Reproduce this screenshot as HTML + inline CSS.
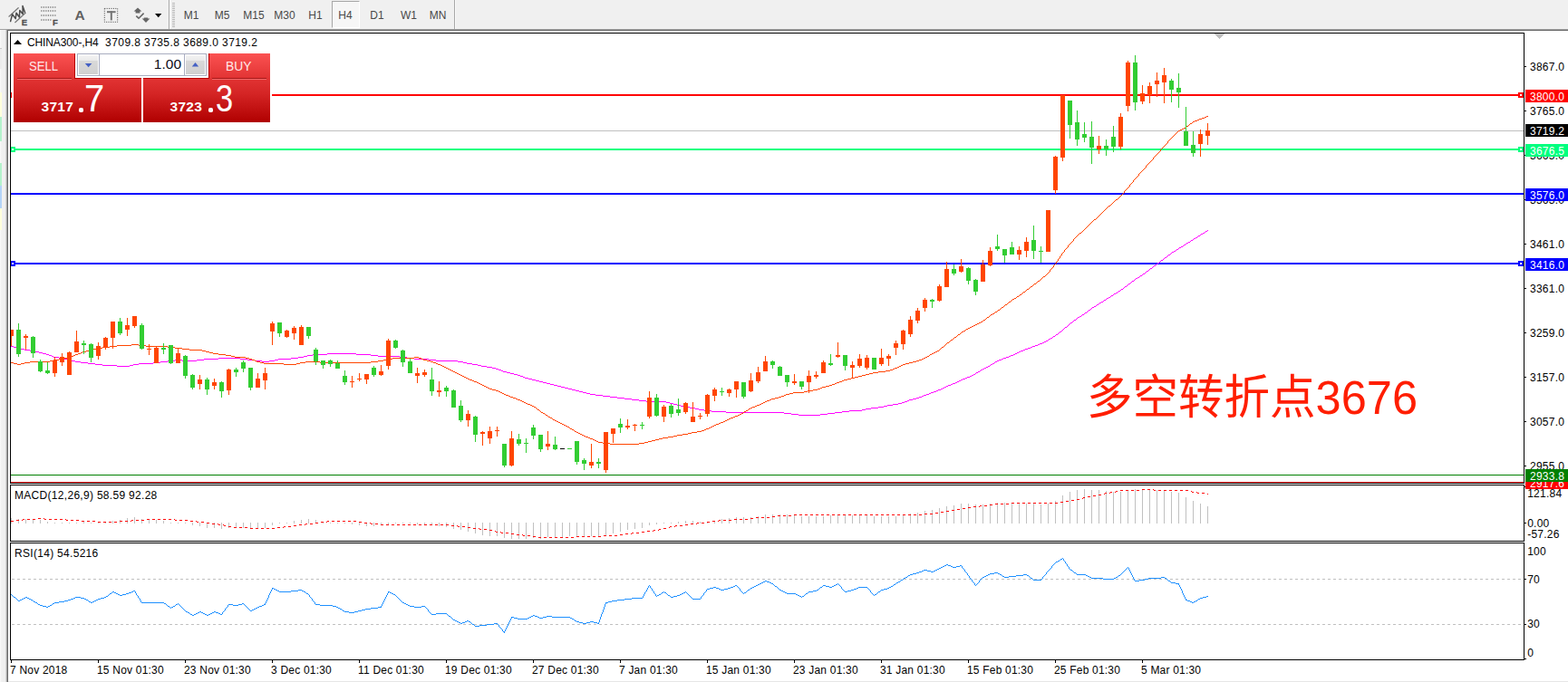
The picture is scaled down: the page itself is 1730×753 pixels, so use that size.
<!DOCTYPE html>
<html><head><meta charset="utf-8"><title>CHINA300-,H4</title>
<style>
html,body{margin:0;padding:0;background:#fff;}
body{width:1730px;height:753px;position:relative;overflow:hidden;font-family:"Liberation Sans",sans-serif;font-size:12px;color:#000;}
.abs{position:absolute;}
#tb{position:absolute;left:0;top:0;width:1730px;height:32px;background:#f0f0f0;}
#sh1{position:absolute;left:0;top:32px;width:1730px;height:1px;background:#a0a0a0;}
#sh2{position:absolute;left:7px;top:33px;width:1723px;height:1px;background:#696969;}
#ls{position:absolute;left:0;top:33px;width:9px;height:720px;background:linear-gradient(to right,#fbfbfb 0px,#f4f4f4 1px,#f0f0f0 2px,#f0f0f0 6px,#d8d8d8 6.5px,#a0a0a0 7.5px,#696969 8.4px,#696969 9px);}
#bot{position:absolute;left:9px;top:752px;width:1721px;height:1px;background:#e6e6e6;}
svg{position:absolute;left:0;top:0;}
.pl{position:absolute;left:1688px;height:14px;line-height:14px;font-size:12px;letter-spacing:0.25px;white-space:nowrap;}
.pb{position:absolute;left:1683px;width:47px;box-sizing:border-box;padding-left:5px;font-size:12px;letter-spacing:0.25px;white-space:nowrap;overflow:hidden;}
.tl{position:absolute;top:733px;height:14px;line-height:14px;font-size:12px;letter-spacing:0.2px;white-space:nowrap;}
.tf{position:absolute;top:9px;height:16px;line-height:16px;font-size:12px;color:#484848;text-align:center;width:34px;}
#h4{position:absolute;left:366px;top:1px;width:29px;height:28px;border:1px solid #fff;border-top-color:#a6a6a6;border-left-color:#a6a6a6;background:#f6f6f6;box-sizing:content-box;}
#title{position:absolute;left:30px;top:40px;height:14px;line-height:14px;font-size:12px;letter-spacing:0.15px;white-space:pre;}
.it{position:absolute;left:16px;height:14px;line-height:14px;font-size:12px;letter-spacing:0.3px;white-space:pre;}
/* one click trading panel */
.red{position:absolute;background:linear-gradient(to bottom,#fb5252 0px,#e23434 27px,#d42424 45px,#b00000 76px);}
.redb{position:absolute;}
.btxt{position:absolute;color:#ffe9e9;font-size:14.5px;height:16px;line-height:16px;transform:scaleX(0.9);transform-origin:0 0;}
.sm{position:absolute;color:#fff;font-weight:bold;font-size:15.5px;height:16px;line-height:16px;letter-spacing:0.3px;}
.big{position:absolute;color:#fff;font-size:42px;height:40px;line-height:40px;transform-origin:0 0;}
.dot{position:absolute;width:5px;height:5px;border-radius:1.8px;background:#fff;}
#inp{position:absolute;left:85px;top:59px;width:141px;height:23px;border:1px solid #a9adc0;background:#fff;box-sizing:content-box;}
.spb{position:absolute;top:60px;width:23px;height:23px;background:linear-gradient(to bottom,#f3f3f3 0,#e9e9e9 29%,#d9d9d9 30%,#d0d0d0 100%);border:1px solid #fff;box-sizing:border-box;}
</style></head>
<body>
<div id="tb"></div>
<div id="sh1"></div><div id="sh2"></div>
<div id="ls"></div>
<div id="bot"></div>
<div class="abs" style="left:0;top:53px;width:2px;height:1px;background:#c8c8c8"></div>
<div class="abs" style="left:0;top:54px;width:2px;height:22px;background:#ececec"></div>
<div class="abs" style="left:0;top:102px;width:2px;height:27px;background:#ffffdc"></div>
<div class="abs" style="left:0;top:129px;width:2px;height:27px;background:#b4f2cc"></div>
<div class="abs" style="left:0;top:180px;width:2px;height:25px;background:#b4f2cc"></div>
<div class="abs" style="left:0;top:205px;width:2px;height:25px;background:#b4d4f8"></div>
<div class="abs" style="left:0;top:230px;width:2px;height:24px;background:#ffffdc"></div>

<!-- toolbar: timeframe buttons -->
<div id="h4"></div>
<div class="tf" style="left:194px">M1</div>
<div class="tf" style="left:228px">M5</div>
<div class="tf" style="left:263px">M15</div>
<div class="tf" style="left:297px">M30</div>
<div class="tf" style="left:331px">H1</div>
<div class="tf" style="left:364px">H4</div>
<div class="tf" style="left:399px">D1</div>
<div class="tf" style="left:434px">W1</div>
<div class="tf" style="left:466px">MN</div>

<svg width="1730" height="753" viewBox="0 0 1730 753">
<defs><clipPath id="cc"><rect x="12" y="37" width="1669" height="496"/></clipPath></defs>
<g shape-rendering="crispEdges" clip-path="url(#cc)">
<rect x="12" y="144" width="1669" height="1" fill="#C0C0C0"/>
<rect x="300" y="104" width="1381" height="2" fill="#FF0000"/>
<rect x="12" y="164" width="1669" height="2" fill="#00FF7F"/>
<rect x="12" y="213" width="1669" height="2" fill="#0000FF"/>
<rect x="12" y="290" width="1669" height="2" fill="#0000FF"/>
<rect x="12" y="524" width="1669" height="1" fill="#008000"/>
<rect x="12" y="532" width="1669" height="1" fill="#FF0000"/>
<path fill="#FF00FF" d="M1332 254h1v1h-1zM1330 255h2v1h-2zM1329 256h1v1h-1zM1327 257h2v1h-2zM1325 258h2v1h-2zM1324 259h1v1h-1zM1322 260h2v1h-2zM1321 261h1v1h-1zM1319 262h2v1h-2zM1317 263h2v1h-2zM1316 264h1v1h-1zM1314 265h2v1h-2zM1313 266h1v1h-1zM1311 267h2v1h-2zM1309 268h2v1h-2zM1308 269h1v1h-1zM1306 270h2v1h-2zM1305 271h1v1h-1zM1303 272h2v1h-2zM1301 273h2v1h-2zM1300 274h1v1h-1zM1298 275h2v1h-2zM1297 276h1v1h-1zM1295 277h2v1h-2zM1293 278h2v1h-2zM1292 279h1v1h-1zM1291 280h1v1h-1zM1289 281h2v1h-2zM1288 282h1v1h-1zM1287 283h1v1h-1zM1285 284h2v1h-2zM1284 285h1v1h-1zM1283 286h1v1h-1zM1281 287h2v1h-2zM1280 288h1v1h-1zM1279 289h1v1h-1zM1277 290h2v1h-2zM1276 291h1v1h-1zM1275 292h1v1h-1zM1273 293h2v1h-2zM1272 294h1v1h-1zM1271 295h1v1h-1zM1269 296h2v1h-2zM1268 297h1v1h-1zM1267 298h1v1h-1zM1265 299h2v1h-2zM1264 300h1v1h-1zM1263 301h1v1h-1zM1261 302h2v1h-2zM1260 303h1v1h-1zM1258 304h2v1h-2zM1257 305h1v1h-1zM1255 306h2v1h-2zM1253 307h2v1h-2zM1252 308h1v1h-1zM1251 309h1v1h-1zM1249 310h2v1h-2zM1248 311h1v1h-1zM1247 312h1v1h-1zM1245 313h2v1h-2zM1244 314h1v1h-1zM1243 315h1v1h-1zM1241 316h2v1h-2zM1240 317h1v1h-1zM1239 318h1v1h-1zM1237 319h2v1h-2zM1236 320h1v1h-1zM1234 321h2v1h-2zM1233 322h1v1h-1zM1231 323h2v1h-2zM1229 324h2v1h-2zM1228 325h1v1h-1zM1226 326h2v1h-2zM1225 327h1v1h-1zM1223 328h2v1h-2zM1221 329h2v1h-2zM1220 330h1v1h-1zM1218 331h2v1h-2zM1217 332h1v1h-1zM1215 333h2v1h-2zM1213 334h2v1h-2zM1212 335h1v1h-1zM1210 336h2v1h-2zM1209 337h1v1h-1zM1207 338h2v1h-2zM1205 339h2v1h-2zM1204 340h1v1h-1zM1203 341h1v1h-1zM1201 342h2v1h-2zM1200 343h1v1h-1zM1199 344h1v1h-1zM1197 345h2v1h-2zM1196 346h1v1h-1zM1194 347h2v1h-2zM1193 348h1v1h-1zM1191 349h2v1h-2zM1189 350h2v1h-2zM1188 351h1v1h-1zM1187 352h1v1h-1zM1185 353h2v1h-2zM1184 354h1v1h-1zM1183 355h1v1h-1zM1181 356h2v1h-2zM1180 357h1v1h-1zM1179 358h1v1h-1zM1178 359h1v1h-1zM1177 360h1v1h-1zM1175 361h2v1h-2zM1174 362h1v1h-1zM1173 363h1v1h-1zM1172 364h1v1h-1zM1171 365h1v1h-1zM1169 366h2v1h-2zM1168 367h1v1h-1zM1167 368h1v1h-1zM1165 369h2v1h-2zM1164 370h1v1h-1zM1162 371h2v1h-2zM1161 372h1v1h-1zM1159 373h2v1h-2zM1157 374h2v1h-2zM1156 375h1v1h-1zM1154 376h2v1h-2zM1152 377h2v1h-2zM1150 378h2v1h-2zM1147 379h3v1h-3zM1145 380h2v1h-2zM1142 381h3v1h-3zM12 382h3v1h-3zM1139 382h3v1h-3zM15 383h4v1h-4zM1137 383h2v1h-2zM19 384h4v1h-4zM1134 384h3v1h-3zM23 385h4v1h-4zM1131 385h3v1h-3zM27 386h6v1h-6zM1129 386h2v1h-2zM33 387h6v1h-6zM1126 387h3v1h-3zM39 388h4v1h-4zM1124 388h2v1h-2zM43 389h4v1h-4zM1122 389h2v1h-2zM47 390h4v1h-4zM361 390h32v1h-32zM1120 390h2v1h-2zM51 391h3v1h-3zM345 391h16v1h-16zM393 391h16v1h-16zM1118 391h2v1h-2zM54 392h3v1h-3zM339 392h6v1h-6zM409 392h8v1h-8zM1115 392h3v1h-3zM57 393h2v1h-2zM335 393h4v1h-4zM417 393h24v1h-24zM1113 393h2v1h-2zM59 394h6v1h-6zM329 394h6v1h-6zM441 394h8v1h-8zM1110 394h3v1h-3zM65 395h6v1h-6zM241 395h24v1h-24zM321 395h8v1h-8zM449 395h8v1h-8zM1107 395h3v1h-3zM71 396h4v1h-4zM225 396h16v1h-16zM265 396h8v1h-8zM307 396h14v1h-14zM457 396h16v1h-16zM1105 396h2v1h-2zM75 397h4v1h-4zM193 397h8v1h-8zM217 397h8v1h-8zM273 397h8v1h-8zM303 397h4v1h-4zM473 397h8v1h-8zM1102 397h3v1h-3zM79 398h4v1h-4zM185 398h8v1h-8zM201 398h16v1h-16zM281 398h8v1h-8zM297 398h6v1h-6zM481 398h24v1h-24zM1100 398h2v1h-2zM83 399h6v1h-6zM177 399h8v1h-8zM289 399h8v1h-8zM505 399h6v1h-6zM1098 399h2v1h-2zM89 400h8v1h-8zM169 400h8v1h-8zM511 400h4v1h-4zM1097 400h1v1h-1zM97 401h8v1h-8zM153 401h16v1h-16zM515 401h6v1h-6zM1095 401h2v1h-2zM105 402h8v1h-8zM147 402h6v1h-6zM521 402h6v1h-6zM1093 402h2v1h-2zM113 403h16v1h-16zM143 403h4v1h-4zM527 403h4v1h-4zM1092 403h1v1h-1zM129 404h14v1h-14zM531 404h6v1h-6zM1090 404h2v1h-2zM537 405h6v1h-6zM1088 405h2v1h-2zM543 406h4v1h-4zM1086 406h2v1h-2zM547 407h3v1h-3zM1084 407h2v1h-2zM550 408h3v1h-3zM1082 408h2v1h-2zM553 409h2v1h-2zM1081 409h1v1h-1zM555 410h4v1h-4zM1079 410h2v1h-2zM559 411h4v1h-4zM1077 411h2v1h-2zM563 412h4v1h-4zM1076 412h1v1h-1zM567 413h4v1h-4zM1074 413h2v1h-2zM571 414h3v1h-3zM1072 414h2v1h-2zM574 415h3v1h-3zM1070 415h2v1h-2zM577 416h2v1h-2zM1067 416h3v1h-3zM579 417h4v1h-4zM1065 417h2v1h-2zM583 418h4v1h-4zM1062 418h3v1h-3zM587 419h4v1h-4zM1060 419h2v1h-2zM591 420h4v1h-4zM1058 420h2v1h-2zM595 421h4v1h-4zM1056 421h2v1h-2zM599 422h4v1h-4zM1054 422h2v1h-2zM603 423h4v1h-4zM1051 423h3v1h-3zM607 424h4v1h-4zM1049 424h2v1h-2zM611 425h4v1h-4zM1046 425h3v1h-3zM615 426h4v1h-4zM1044 426h2v1h-2zM619 427h4v1h-4zM1042 427h2v1h-2zM623 428h4v1h-4zM1040 428h2v1h-2zM627 429h4v1h-4zM1038 429h2v1h-2zM631 430h4v1h-4zM1035 430h3v1h-3zM635 431h4v1h-4zM1033 431h2v1h-2zM639 432h4v1h-4zM1030 432h3v1h-3zM643 433h4v1h-4zM1027 433h3v1h-3zM647 434h4v1h-4zM1025 434h2v1h-2zM651 435h6v1h-6zM1022 435h3v1h-3zM657 436h8v1h-8zM1019 436h3v1h-3zM665 437h8v1h-8zM1017 437h2v1h-2zM673 438h8v1h-8zM1014 438h3v1h-3zM681 439h8v1h-8zM1011 439h3v1h-3zM689 440h8v1h-8zM1007 440h4v1h-4zM697 441h8v1h-8zM1003 441h4v1h-4zM705 442h8v1h-8zM1001 442h2v1h-2zM713 443h22v1h-22zM998 443h3v1h-3zM735 444h4v1h-4zM995 444h3v1h-3zM739 445h4v1h-4zM991 445h4v1h-4zM743 446h4v1h-4zM985 446h6v1h-6zM747 447h4v1h-4zM979 447h6v1h-6zM751 448h4v1h-4zM975 448h4v1h-4zM755 449h6v1h-6zM969 449h6v1h-6zM761 450h6v1h-6zM961 450h8v1h-8zM767 451h4v1h-4zM955 451h6v1h-6zM771 452h6v1h-6zM951 452h4v1h-4zM777 453h8v1h-8zM937 453h14v1h-14zM785 454h16v1h-16zM929 454h8v1h-8zM801 455h64v1h-64zM921 455h8v1h-8zM865 456h8v1h-8zM913 456h8v1h-8zM873 457h8v1h-8zM905 457h8v1h-8zM881 458h24v1h-24z"/>
<path fill="#FF4500" d="M1331 128h2v1h-2zM1329 129h2v1h-2zM1326 130h3v1h-3zM1323 131h3v1h-3zM1321 132h2v1h-2zM1318 133h3v1h-3zM1316 134h2v1h-2zM1315 135h1v1h-1zM1313 136h2v1h-2zM1312 137h1v1h-1zM1311 138h1v1h-1zM1309 139h2v1h-2zM1308 140h1v1h-1zM1306 141h2v1h-2zM1304 142h2v1h-2zM1302 143h2v1h-2zM1300 144h2v1h-2zM1299 145h1v1h-1zM1298 146h1v1h-1zM1297 147h1v1h-1zM1296 148h1v1h-1zM1295 149h1v1h-1zM1294 150h1v1h-1zM1293 151h1v1h-1zM1292 152h1v1h-1zM1291 153h1v1h-1zM1290 154h1v1h-1zM1289 155h1v1h-1zM1288 156h1v2h-1zM1287 158h1v1h-1zM1286 159h1v1h-1zM1285 160h1v1h-1zM1284 161h1v1h-1zM1283 162h1v1h-1zM1282 163h1v1h-1zM1281 164h1v1h-1zM1280 165h1v2h-1zM1279 167h1v1h-1zM1278 168h1v1h-1zM1277 169h1v1h-1zM1276 170h1v1h-1zM1275 171h1v1h-1zM1274 172h1v1h-1zM1273 173h1v1h-1zM1272 174h1v2h-1zM1271 176h1v1h-1zM1270 177h1v1h-1zM1269 178h1v1h-1zM1268 179h1v1h-1zM1267 180h1v1h-1zM1266 181h1v1h-1zM1265 182h1v1h-1zM1264 183h1v2h-1zM1263 185h1v1h-1zM1262 186h1v1h-1zM1261 187h1v1h-1zM1260 188h1v1h-1zM1259 189h1v1h-1zM1258 190h1v1h-1zM1257 191h1v1h-1zM1256 192h1v2h-1zM1255 194h1v1h-1zM1254 195h1v1h-1zM1253 196h1v1h-1zM1252 197h1v1h-1zM1251 198h1v1h-1zM1250 199h1v2h-1zM1249 201h1v1h-1zM1248 202h1v1h-1zM1247 203h1v1h-1zM1246 204h1v2h-1zM1245 206h1v1h-1zM1244 207h1v1h-1zM1243 208h1v1h-1zM1242 209h1v1h-1zM1241 210h1v1h-1zM1240 211h1v2h-1zM1239 213h1v1h-1zM1238 214h1v1h-1zM1237 215h1v1h-1zM1236 216h1v1h-1zM1235 217h1v1h-1zM1234 218h1v1h-1zM1233 219h1v1h-1zM1231 220h2v1h-2zM1230 221h1v1h-1zM1229 222h1v1h-1zM1228 223h1v1h-1zM1227 224h1v1h-1zM1226 225h1v1h-1zM1225 226h1v1h-1zM1223 227h2v1h-2zM1222 228h1v1h-1zM1221 229h1v1h-1zM1220 230h1v1h-1zM1219 231h1v1h-1zM1218 232h1v1h-1zM1217 233h1v1h-1zM1216 234h1v1h-1zM1215 235h1v1h-1zM1214 236h1v1h-1zM1213 237h1v1h-1zM1212 238h1v1h-1zM1211 239h1v1h-1zM1210 240h1v1h-1zM1209 241h1v1h-1zM1207 242h2v1h-2zM1206 243h1v1h-1zM1205 244h1v1h-1zM1204 245h1v1h-1zM1203 246h1v1h-1zM1202 247h1v1h-1zM1201 248h1v1h-1zM1200 249h1v1h-1zM1199 250h1v1h-1zM1198 251h1v1h-1zM1197 252h1v1h-1zM1196 253h1v1h-1zM1195 254h1v1h-1zM1194 255h1v1h-1zM1193 256h1v1h-1zM1191 257h2v1h-2zM1190 258h1v1h-1zM1189 259h1v1h-1zM1188 260h1v1h-1zM1187 261h1v1h-1zM1186 262h1v1h-1zM1185 263h1v1h-1zM1184 264h1v2h-1zM1183 266h1v1h-1zM1182 267h1v1h-1zM1181 268h1v1h-1zM1180 269h1v1h-1zM1179 270h1v1h-1zM1178 271h1v2h-1zM1177 273h1v1h-1zM1176 274h1v1h-1zM1175 275h1v1h-1zM1174 276h1v2h-1zM1173 278h1v1h-1zM1172 279h1v1h-1zM1171 280h1v2h-1zM1170 282h1v1h-1zM1169 283h1v2h-1zM1168 285h1v1h-1zM1167 286h1v2h-1zM1166 288h1v1h-1zM1165 289h1v2h-1zM1164 291h1v1h-1zM1163 292h1v1h-1zM1162 293h1v2h-1zM1161 295h1v1h-1zM1160 296h1v1h-1zM1159 297h1v1h-1zM1158 298h1v2h-1zM1157 300h1v1h-1zM1156 301h1v1h-1zM1155 302h1v1h-1zM1154 303h1v1h-1zM1153 304h1v1h-1zM1151 305h2v1h-2zM1150 306h1v1h-1zM1149 307h1v1h-1zM1148 308h1v1h-1zM1147 309h1v1h-1zM1145 310h2v1h-2zM1144 311h1v1h-1zM1143 312h1v1h-1zM1141 313h2v1h-2zM1140 314h1v1h-1zM1139 315h1v1h-1zM1137 316h2v1h-2zM1136 317h1v1h-1zM1135 318h1v1h-1zM1133 319h2v1h-2zM1132 320h1v1h-1zM1131 321h1v1h-1zM1129 322h2v1h-2zM1128 323h1v1h-1zM1127 324h1v1h-1zM1125 325h2v1h-2zM1124 326h1v1h-1zM1122 327h2v1h-2zM1121 328h1v1h-1zM1119 329h2v1h-2zM1117 330h2v1h-2zM1116 331h1v1h-1zM1115 332h1v1h-1zM1113 333h2v1h-2zM1112 334h1v1h-1zM1111 335h1v1h-1zM1109 336h2v1h-2zM1108 337h1v1h-1zM1107 338h1v1h-1zM1105 339h2v1h-2zM1104 340h1v1h-1zM1103 341h1v1h-1zM1101 342h2v1h-2zM1100 343h1v1h-1zM1098 344h2v1h-2zM1097 345h1v1h-1zM1095 346h2v1h-2zM1093 347h2v1h-2zM1092 348h1v1h-1zM1091 349h1v1h-1zM1089 350h2v1h-2zM1088 351h1v1h-1zM1087 352h1v1h-1zM1085 353h2v1h-2zM1084 354h1v1h-1zM1082 355h2v1h-2zM1080 356h2v1h-2zM1078 357h2v1h-2zM1076 358h2v1h-2zM1074 359h2v1h-2zM1072 360h2v1h-2zM1070 361h2v1h-2zM1068 362h2v1h-2zM1066 363h2v1h-2zM1065 364h1v1h-1zM1063 365h2v1h-2zM1061 366h2v1h-2zM1060 367h1v1h-1zM1059 368h1v1h-1zM1057 369h2v1h-2zM1056 370h1v1h-1zM1055 371h1v1h-1zM1053 372h2v1h-2zM1052 373h1v1h-1zM1051 374h1v1h-1zM1049 375h2v1h-2zM1048 376h1v1h-1zM1047 377h1v1h-1zM1045 378h2v1h-2zM1044 379h1v1h-1zM145 380h8v1h-8zM1043 380h1v1h-1zM129 381h16v1h-16zM153 381h8v1h-8zM1042 381h1v1h-1zM121 382h8v1h-8zM161 382h24v1h-24zM1041 382h1v1h-1zM113 383h8v1h-8zM185 383h8v1h-8zM1039 383h2v1h-2zM107 384h6v1h-6zM193 384h8v1h-8zM1038 384h1v1h-1zM103 385h4v1h-4zM201 385h8v1h-8zM1037 385h1v1h-1zM99 386h4v1h-4zM209 386h14v1h-14zM1036 386h1v1h-1zM95 387h4v1h-4zM223 387h4v1h-4zM1034 387h2v1h-2zM91 388h4v1h-4zM227 388h4v1h-4zM1032 388h2v1h-2zM89 389h2v1h-2zM231 389h4v1h-4zM1030 389h2v1h-2zM86 390h3v1h-3zM235 390h6v1h-6zM1028 390h2v1h-2zM83 391h3v1h-3zM241 391h8v1h-8zM1026 391h2v1h-2zM81 392h2v1h-2zM249 392h6v1h-6zM1025 392h1v1h-1zM78 393h3v1h-3zM255 393h4v1h-4zM1023 393h2v1h-2zM75 394h3v1h-3zM259 394h12v1h-12zM457 394h5v1h-5zM1021 394h2v1h-2zM71 395h4v1h-4zM271 395h4v1h-4zM433 395h24v1h-24zM462 395h3v1h-3zM1019 395h2v1h-2zM65 396h6v1h-6zM275 396h3v1h-3zM427 396h6v1h-6zM465 396h2v1h-2zM1017 396h2v1h-2zM59 397h6v1h-6zM278 397h3v1h-3zM423 397h4v1h-4zM467 397h4v1h-4zM1014 397h3v1h-3zM55 398h4v1h-4zM281 398h2v1h-2zM417 398h6v1h-6zM471 398h4v1h-4zM1011 398h3v1h-3zM33 399h22v1h-22zM283 399h4v1h-4zM337 399h16v1h-16zM409 399h8v1h-8zM475 399h3v1h-3zM1007 399h4v1h-4zM12 400h3v1h-3zM27 400h6v1h-6zM287 400h4v1h-4zM331 400h6v1h-6zM353 400h56v1h-56zM478 400h3v1h-3zM1003 400h4v1h-4zM15 401h4v1h-4zM23 401h4v1h-4zM291 401h22v1h-22zM327 401h4v1h-4zM481 401h2v1h-2zM999 401h4v1h-4zM19 402h4v1h-4zM313 402h14v1h-14zM483 402h3v1h-3zM996 402h3v1h-3zM486 403h2v1h-2zM994 403h2v1h-2zM488 404h2v1h-2zM992 404h2v1h-2zM490 405h2v1h-2zM990 405h2v1h-2zM492 406h2v1h-2zM987 406h3v1h-3zM494 407h2v1h-2zM985 407h2v1h-2zM496 408h2v1h-2zM982 408h3v1h-3zM498 409h2v1h-2zM977 409h5v1h-5zM500 410h2v1h-2zM969 410h8v1h-8zM502 411h2v1h-2zM963 411h6v1h-6zM504 412h2v1h-2zM959 412h4v1h-4zM506 413h2v1h-2zM955 413h4v1h-4zM508 414h2v1h-2zM951 414h4v1h-4zM510 415h2v1h-2zM947 415h4v1h-4zM512 416h2v1h-2zM943 416h4v1h-4zM514 417h2v1h-2zM939 417h4v1h-4zM516 418h2v1h-2zM935 418h4v1h-4zM518 419h3v1h-3zM931 419h4v1h-4zM521 420h2v1h-2zM929 420h2v1h-2zM523 421h3v1h-3zM926 421h3v1h-3zM526 422h2v1h-2zM923 422h3v1h-3zM528 423h2v1h-2zM921 423h2v1h-2zM530 424h2v1h-2zM918 424h3v1h-3zM532 425h2v1h-2zM915 425h3v1h-3zM534 426h2v1h-2zM911 426h4v1h-4zM536 427h2v1h-2zM907 427h4v1h-4zM538 428h2v1h-2zM905 428h2v1h-2zM540 429h3v1h-3zM902 429h3v1h-3zM543 430h4v1h-4zM897 430h5v1h-5zM547 431h3v1h-3zM891 431h6v1h-6zM550 432h2v1h-2zM887 432h4v1h-4zM552 433h2v1h-2zM875 433h12v1h-12zM554 434h2v1h-2zM871 434h4v1h-4zM556 435h2v1h-2zM867 435h4v1h-4zM558 436h3v1h-3zM865 436h2v1h-2zM561 437h2v1h-2zM862 437h3v1h-3zM563 438h3v1h-3zM859 438h3v1h-3zM566 439h3v1h-3zM855 439h4v1h-4zM569 440h2v1h-2zM851 440h4v1h-4zM571 441h3v1h-3zM849 441h2v1h-2zM574 442h2v1h-2zM846 442h3v1h-3zM576 443h2v1h-2zM844 443h2v1h-2zM578 444h2v1h-2zM842 444h2v1h-2zM580 445h2v1h-2zM840 445h2v1h-2zM582 446h3v1h-3zM838 446h2v1h-2zM585 447h2v1h-2zM835 447h3v1h-3zM587 448h2v1h-2zM833 448h2v1h-2zM589 449h2v1h-2zM830 449h3v1h-3zM591 450h1v1h-1zM828 450h2v1h-2zM592 451h1v1h-1zM826 451h2v1h-2zM593 452h2v1h-2zM825 452h1v1h-1zM595 453h1v1h-1zM823 453h2v1h-2zM596 454h1v1h-1zM821 454h2v1h-2zM597 455h2v1h-2zM820 455h1v1h-1zM599 456h2v1h-2zM818 456h2v1h-2zM601 457h1v1h-1zM816 457h2v1h-2zM602 458h2v1h-2zM814 458h2v1h-2zM604 459h1v1h-1zM811 459h3v1h-3zM605 460h2v1h-2zM809 460h2v1h-2zM607 461h2v1h-2zM806 461h3v1h-3zM609 462h1v1h-1zM804 462h2v1h-2zM610 463h2v1h-2zM802 463h2v1h-2zM612 464h2v1h-2zM800 464h2v1h-2zM614 465h2v1h-2zM798 465h2v1h-2zM616 466h2v1h-2zM795 466h3v1h-3zM618 467h2v1h-2zM793 467h2v1h-2zM620 468h2v1h-2zM790 468h3v1h-3zM622 469h2v1h-2zM788 469h2v1h-2zM624 470h2v1h-2zM786 470h2v1h-2zM626 471h2v1h-2zM784 471h2v1h-2zM628 472h1v1h-1zM782 472h2v1h-2zM629 473h2v1h-2zM779 473h3v1h-3zM631 474h2v1h-2zM777 474h2v1h-2zM633 475h1v1h-1zM774 475h3v1h-3zM634 476h2v1h-2zM769 476h5v1h-5zM636 477h2v1h-2zM763 477h6v1h-6zM638 478h2v1h-2zM759 478h4v1h-4zM640 479h2v1h-2zM753 479h6v1h-6zM642 480h2v1h-2zM747 480h6v1h-6zM644 481h2v1h-2zM743 481h4v1h-4zM646 482h3v1h-3zM737 482h6v1h-6zM649 483h2v1h-2zM731 483h6v1h-6zM651 484h3v1h-3zM727 484h4v1h-4zM654 485h2v1h-2zM723 485h4v1h-4zM656 486h2v1h-2zM719 486h4v1h-4zM658 487h2v1h-2zM715 487h4v1h-4zM660 488h5v1h-5zM711 488h4v1h-4zM665 489h8v1h-8zM705 489h6v1h-6zM673 490h32v1h-32z"/>
<rect x="12" y="364" width="1" height="18" fill="#FF4500"/>
<rect x="10" y="364" width="5" height="7" fill="#FF4500"/>
<rect x="20" y="357" width="1" height="37" fill="#32CD32"/>
<rect x="18" y="364" width="5" height="27" fill="#32CD32"/>
<rect x="28" y="369" width="1" height="17" fill="#FF4500"/>
<rect x="26" y="371" width="5" height="2" fill="#FF4500"/>
<rect x="36" y="371" width="1" height="24" fill="#32CD32"/>
<rect x="34" y="372" width="5" height="18" fill="#32CD32"/>
<rect x="44" y="397" width="1" height="14" fill="#32CD32"/>
<rect x="42" y="399" width="5" height="11" fill="#32CD32"/>
<rect x="52" y="400" width="1" height="13" fill="#32CD32"/>
<rect x="50" y="409" width="5" height="3" fill="#32CD32"/>
<rect x="60" y="394" width="1" height="22" fill="#FF4500"/>
<rect x="58" y="398" width="5" height="14" fill="#FF4500"/>
<rect x="68" y="390" width="1" height="14" fill="#FF4500"/>
<rect x="66" y="394" width="5" height="6" fill="#FF4500"/>
<rect x="76" y="388" width="1" height="26" fill="#FF4500"/>
<rect x="74" y="389" width="5" height="25" fill="#FF4500"/>
<rect x="84" y="365" width="1" height="24" fill="#FF4500"/>
<rect x="82" y="377" width="5" height="12" fill="#FF4500"/>
<rect x="92" y="376" width="1" height="15" fill="#32CD32"/>
<rect x="90" y="379" width="5" height="2" fill="#32CD32"/>
<rect x="100" y="379" width="1" height="21" fill="#32CD32"/>
<rect x="98" y="380" width="5" height="15" fill="#32CD32"/>
<rect x="108" y="378" width="1" height="19" fill="#FF4500"/>
<rect x="106" y="382" width="5" height="11" fill="#FF4500"/>
<rect x="116" y="372" width="1" height="14" fill="#FF4500"/>
<rect x="114" y="373" width="5" height="11" fill="#FF4500"/>
<rect x="124" y="355" width="1" height="30" fill="#FF4500"/>
<rect x="122" y="355" width="5" height="18" fill="#FF4500"/>
<rect x="132" y="351" width="1" height="19" fill="#32CD32"/>
<rect x="130" y="355" width="5" height="13" fill="#32CD32"/>
<rect x="140" y="351" width="1" height="20" fill="#FF4500"/>
<rect x="138" y="359" width="5" height="5" fill="#FF4500"/>
<rect x="148" y="349" width="1" height="13" fill="#FF4500"/>
<rect x="146" y="349" width="5" height="11" fill="#FF4500"/>
<rect x="156" y="357" width="1" height="29" fill="#32CD32"/>
<rect x="154" y="359" width="5" height="26" fill="#32CD32"/>
<rect x="164" y="380" width="1" height="12" fill="#FF4500"/>
<rect x="162" y="385" width="5" height="1" fill="#FF4500"/>
<rect x="172" y="382" width="1" height="19" fill="#FF4500"/>
<rect x="170" y="384" width="5" height="17" fill="#FF4500"/>
<rect x="180" y="379" width="1" height="12" fill="#32CD32"/>
<rect x="178" y="384" width="5" height="2" fill="#32CD32"/>
<rect x="188" y="381" width="1" height="21" fill="#32CD32"/>
<rect x="186" y="381" width="5" height="20" fill="#32CD32"/>
<rect x="196" y="385" width="1" height="16" fill="#FF4500"/>
<rect x="194" y="390" width="5" height="11" fill="#FF4500"/>
<rect x="204" y="392" width="1" height="26" fill="#32CD32"/>
<rect x="202" y="393" width="5" height="22" fill="#32CD32"/>
<rect x="212" y="413" width="1" height="17" fill="#32CD32"/>
<rect x="210" y="414" width="5" height="14" fill="#32CD32"/>
<rect x="220" y="414" width="1" height="16" fill="#FF4500"/>
<rect x="218" y="419" width="5" height="5" fill="#FF4500"/>
<rect x="228" y="417" width="1" height="19" fill="#32CD32"/>
<rect x="226" y="419" width="5" height="11" fill="#32CD32"/>
<rect x="236" y="418" width="1" height="12" fill="#FF4500"/>
<rect x="234" y="422" width="5" height="4" fill="#FF4500"/>
<rect x="244" y="421" width="1" height="18" fill="#32CD32"/>
<rect x="242" y="422" width="5" height="10" fill="#32CD32"/>
<rect x="252" y="407" width="1" height="29" fill="#FF4500"/>
<rect x="250" y="408" width="5" height="23" fill="#FF4500"/>
<rect x="260" y="406" width="1" height="10" fill="#32CD32"/>
<rect x="258" y="408" width="5" height="3" fill="#32CD32"/>
<rect x="268" y="398" width="1" height="13" fill="#32CD32"/>
<rect x="266" y="400" width="5" height="7" fill="#32CD32"/>
<rect x="276" y="406" width="1" height="25" fill="#32CD32"/>
<rect x="274" y="406" width="5" height="22" fill="#32CD32"/>
<rect x="284" y="412" width="1" height="16" fill="#FF4500"/>
<rect x="282" y="418" width="5" height="10" fill="#FF4500"/>
<rect x="292" y="406" width="1" height="24" fill="#FF4500"/>
<rect x="290" y="412" width="5" height="8" fill="#FF4500"/>
<rect x="300" y="355" width="1" height="26" fill="#FF4500"/>
<rect x="298" y="357" width="5" height="9" fill="#FF4500"/>
<rect x="308" y="356" width="1" height="16" fill="#32CD32"/>
<rect x="306" y="356" width="5" height="12" fill="#32CD32"/>
<rect x="316" y="364" width="1" height="9" fill="#FF4500"/>
<rect x="314" y="365" width="5" height="7" fill="#FF4500"/>
<rect x="324" y="360" width="1" height="15" fill="#FF4500"/>
<rect x="322" y="362" width="5" height="6" fill="#FF4500"/>
<rect x="332" y="359" width="1" height="22" fill="#FF4500"/>
<rect x="330" y="361" width="5" height="20" fill="#FF4500"/>
<rect x="340" y="361" width="1" height="13" fill="#32CD32"/>
<rect x="338" y="361" width="5" height="10" fill="#32CD32"/>
<rect x="348" y="384" width="1" height="19" fill="#32CD32"/>
<rect x="346" y="386" width="5" height="13" fill="#32CD32"/>
<rect x="356" y="398" width="1" height="9" fill="#32CD32"/>
<rect x="354" y="398" width="5" height="5" fill="#32CD32"/>
<rect x="364" y="397" width="1" height="8" fill="#32CD32"/>
<rect x="362" y="398" width="5" height="4" fill="#32CD32"/>
<rect x="372" y="398" width="1" height="9" fill="#32CD32"/>
<rect x="370" y="401" width="5" height="6" fill="#32CD32"/>
<rect x="380" y="409" width="1" height="16" fill="#32CD32"/>
<rect x="378" y="415" width="5" height="7" fill="#32CD32"/>
<rect x="388" y="415" width="1" height="13" fill="#FF4500"/>
<rect x="386" y="421" width="5" height="1" fill="#FF4500"/>
<rect x="396" y="412" width="1" height="9" fill="#FF4500"/>
<rect x="394" y="418" width="5" height="1" fill="#FF4500"/>
<rect x="404" y="413" width="1" height="11" fill="#FF4500"/>
<rect x="402" y="413" width="5" height="6" fill="#FF4500"/>
<rect x="412" y="404" width="1" height="12" fill="#32CD32"/>
<rect x="410" y="406" width="5" height="8" fill="#32CD32"/>
<rect x="420" y="403" width="1" height="12" fill="#FF4500"/>
<rect x="418" y="410" width="5" height="4" fill="#FF4500"/>
<rect x="428" y="374" width="1" height="34" fill="#FF4500"/>
<rect x="426" y="376" width="5" height="28" fill="#FF4500"/>
<rect x="436" y="375" width="1" height="10" fill="#32CD32"/>
<rect x="434" y="376" width="5" height="8" fill="#32CD32"/>
<rect x="444" y="386" width="1" height="19" fill="#32CD32"/>
<rect x="442" y="387" width="5" height="13" fill="#32CD32"/>
<rect x="452" y="396" width="1" height="16" fill="#32CD32"/>
<rect x="450" y="399" width="5" height="13" fill="#32CD32"/>
<rect x="460" y="406" width="1" height="17" fill="#FF4500"/>
<rect x="458" y="412" width="5" height="3" fill="#FF4500"/>
<rect x="468" y="408" width="1" height="8" fill="#FF4500"/>
<rect x="466" y="411" width="5" height="3" fill="#FF4500"/>
<rect x="476" y="406" width="1" height="31" fill="#32CD32"/>
<rect x="474" y="419" width="5" height="13" fill="#32CD32"/>
<rect x="484" y="421" width="1" height="17" fill="#FF4500"/>
<rect x="482" y="431" width="5" height="2" fill="#FF4500"/>
<rect x="492" y="426" width="1" height="12" fill="#32CD32"/>
<rect x="490" y="428" width="5" height="4" fill="#32CD32"/>
<rect x="500" y="430" width="1" height="20" fill="#32CD32"/>
<rect x="498" y="431" width="5" height="19" fill="#32CD32"/>
<rect x="508" y="442" width="1" height="24" fill="#32CD32"/>
<rect x="506" y="448" width="5" height="16" fill="#32CD32"/>
<rect x="516" y="453" width="1" height="18" fill="#FF4500"/>
<rect x="514" y="457" width="5" height="7" fill="#FF4500"/>
<rect x="524" y="459" width="1" height="29" fill="#32CD32"/>
<rect x="522" y="460" width="5" height="20" fill="#32CD32"/>
<rect x="532" y="476" width="1" height="16" fill="#FF4500"/>
<rect x="530" y="477" width="5" height="2" fill="#FF4500"/>
<rect x="540" y="471" width="1" height="19" fill="#FF4500"/>
<rect x="538" y="476" width="5" height="8" fill="#FF4500"/>
<rect x="548" y="471" width="1" height="11" fill="#FF4500"/>
<rect x="546" y="475" width="5" height="1" fill="#FF4500"/>
<rect x="556" y="490" width="1" height="26" fill="#32CD32"/>
<rect x="554" y="490" width="5" height="24" fill="#32CD32"/>
<rect x="564" y="476" width="1" height="39" fill="#FF4500"/>
<rect x="562" y="484" width="5" height="30" fill="#FF4500"/>
<rect x="572" y="479" width="1" height="13" fill="#32CD32"/>
<rect x="570" y="485" width="5" height="5" fill="#32CD32"/>
<rect x="580" y="484" width="1" height="16" fill="#32CD32"/>
<rect x="578" y="489" width="5" height="1" fill="#32CD32"/>
<rect x="588" y="469" width="1" height="16" fill="#32CD32"/>
<rect x="586" y="472" width="5" height="9" fill="#32CD32"/>
<rect x="596" y="480" width="1" height="19" fill="#32CD32"/>
<rect x="594" y="480" width="5" height="16" fill="#32CD32"/>
<rect x="604" y="476" width="1" height="21" fill="#FF4500"/>
<rect x="602" y="490" width="5" height="3" fill="#FF4500"/>
<rect x="612" y="482" width="1" height="15" fill="#32CD32"/>
<rect x="610" y="491" width="5" height="5" fill="#32CD32"/>
<rect x="620" y="495" width="1" height="1" fill="#000000"/>
<rect x="618" y="495" width="5" height="1" fill="#000000"/>
<rect x="628" y="495" width="1" height="1" fill="#32CD32"/>
<rect x="626" y="495" width="5" height="1" fill="#32CD32"/>
<rect x="636" y="487" width="1" height="26" fill="#32CD32"/>
<rect x="634" y="487" width="5" height="23" fill="#32CD32"/>
<rect x="644" y="506" width="1" height="13" fill="#32CD32"/>
<rect x="642" y="508" width="5" height="4" fill="#32CD32"/>
<rect x="652" y="490" width="1" height="27" fill="#FF4500"/>
<rect x="650" y="510" width="5" height="4" fill="#FF4500"/>
<rect x="660" y="506" width="1" height="11" fill="#32CD32"/>
<rect x="658" y="510" width="5" height="2" fill="#32CD32"/>
<rect x="668" y="477" width="1" height="45" fill="#FF4500"/>
<rect x="666" y="477" width="5" height="42" fill="#FF4500"/>
<rect x="676" y="473" width="1" height="16" fill="#FF4500"/>
<rect x="674" y="473" width="5" height="6" fill="#FF4500"/>
<rect x="684" y="462" width="1" height="16" fill="#32CD32"/>
<rect x="682" y="468" width="5" height="4" fill="#32CD32"/>
<rect x="692" y="463" width="1" height="11" fill="#FF4500"/>
<rect x="690" y="470" width="5" height="2" fill="#FF4500"/>
<rect x="700" y="468" width="1" height="8" fill="#FF4500"/>
<rect x="698" y="469" width="5" height="1" fill="#FF4500"/>
<rect x="708" y="466" width="1" height="8" fill="#32CD32"/>
<rect x="706" y="469" width="5" height="1" fill="#32CD32"/>
<rect x="716" y="432" width="1" height="30" fill="#FF4500"/>
<rect x="714" y="439" width="5" height="21" fill="#FF4500"/>
<rect x="724" y="435" width="1" height="25" fill="#32CD32"/>
<rect x="722" y="439" width="5" height="20" fill="#32CD32"/>
<rect x="732" y="447" width="1" height="19" fill="#FF4500"/>
<rect x="730" y="449" width="5" height="11" fill="#FF4500"/>
<rect x="740" y="446" width="1" height="15" fill="#32CD32"/>
<rect x="738" y="448" width="5" height="9" fill="#32CD32"/>
<rect x="748" y="440" width="1" height="19" fill="#32CD32"/>
<rect x="746" y="452" width="5" height="4" fill="#32CD32"/>
<rect x="756" y="444" width="1" height="13" fill="#FF4500"/>
<rect x="754" y="445" width="5" height="10" fill="#FF4500"/>
<rect x="764" y="444" width="1" height="22" fill="#FF4500"/>
<rect x="762" y="460" width="5" height="6" fill="#FF4500"/>
<rect x="772" y="456" width="1" height="7" fill="#FF4500"/>
<rect x="770" y="459" width="5" height="1" fill="#FF4500"/>
<rect x="780" y="435" width="1" height="25" fill="#FF4500"/>
<rect x="778" y="436" width="5" height="21" fill="#FF4500"/>
<rect x="788" y="428" width="1" height="15" fill="#FF4500"/>
<rect x="786" y="430" width="5" height="7" fill="#FF4500"/>
<rect x="796" y="428" width="1" height="9" fill="#32CD32"/>
<rect x="794" y="432" width="5" height="1" fill="#32CD32"/>
<rect x="804" y="429" width="1" height="9" fill="#FF4500"/>
<rect x="802" y="430" width="5" height="4" fill="#FF4500"/>
<rect x="812" y="421" width="1" height="18" fill="#FF4500"/>
<rect x="810" y="421" width="5" height="9" fill="#FF4500"/>
<rect x="820" y="422" width="1" height="18" fill="#32CD32"/>
<rect x="818" y="422" width="5" height="16" fill="#32CD32"/>
<rect x="828" y="412" width="1" height="21" fill="#FF4500"/>
<rect x="826" y="420" width="5" height="12" fill="#FF4500"/>
<rect x="836" y="405" width="1" height="18" fill="#FF4500"/>
<rect x="834" y="411" width="5" height="10" fill="#FF4500"/>
<rect x="844" y="393" width="1" height="17" fill="#FF4500"/>
<rect x="842" y="399" width="5" height="11" fill="#FF4500"/>
<rect x="852" y="398" width="1" height="9" fill="#32CD32"/>
<rect x="850" y="399" width="5" height="4" fill="#32CD32"/>
<rect x="860" y="404" width="1" height="11" fill="#32CD32"/>
<rect x="858" y="405" width="5" height="10" fill="#32CD32"/>
<rect x="868" y="414" width="1" height="13" fill="#32CD32"/>
<rect x="866" y="414" width="5" height="8" fill="#32CD32"/>
<rect x="876" y="413" width="1" height="12" fill="#FF4500"/>
<rect x="874" y="421" width="5" height="2" fill="#FF4500"/>
<rect x="884" y="421" width="1" height="9" fill="#32CD32"/>
<rect x="882" y="421" width="5" height="6" fill="#32CD32"/>
<rect x="892" y="409" width="1" height="25" fill="#FF4500"/>
<rect x="890" y="415" width="5" height="7" fill="#FF4500"/>
<rect x="900" y="410" width="1" height="8" fill="#FF4500"/>
<rect x="898" y="414" width="5" height="2" fill="#FF4500"/>
<rect x="908" y="398" width="1" height="14" fill="#FF4500"/>
<rect x="906" y="400" width="5" height="12" fill="#FF4500"/>
<rect x="916" y="391" width="1" height="13" fill="#32CD32"/>
<rect x="914" y="401" width="5" height="2" fill="#32CD32"/>
<rect x="924" y="378" width="1" height="17" fill="#FF4500"/>
<rect x="922" y="392" width="5" height="2" fill="#FF4500"/>
<rect x="932" y="392" width="1" height="17" fill="#32CD32"/>
<rect x="930" y="392" width="5" height="12" fill="#32CD32"/>
<rect x="940" y="399" width="1" height="19" fill="#FF4500"/>
<rect x="938" y="403" width="5" height="3" fill="#FF4500"/>
<rect x="948" y="391" width="1" height="15" fill="#FF4500"/>
<rect x="946" y="396" width="5" height="8" fill="#FF4500"/>
<rect x="956" y="392" width="1" height="16" fill="#FF4500"/>
<rect x="954" y="395" width="5" height="11" fill="#FF4500"/>
<rect x="964" y="395" width="1" height="13" fill="#32CD32"/>
<rect x="962" y="395" width="5" height="13" fill="#32CD32"/>
<rect x="972" y="385" width="1" height="19" fill="#FF4500"/>
<rect x="970" y="395" width="5" height="7" fill="#FF4500"/>
<rect x="980" y="391" width="1" height="13" fill="#FF4500"/>
<rect x="978" y="393" width="5" height="3" fill="#FF4500"/>
<rect x="988" y="376" width="1" height="16" fill="#FF4500"/>
<rect x="986" y="379" width="5" height="5" fill="#FF4500"/>
<rect x="996" y="364" width="1" height="22" fill="#FF4500"/>
<rect x="994" y="365" width="5" height="15" fill="#FF4500"/>
<rect x="1004" y="349" width="1" height="23" fill="#FF4500"/>
<rect x="1002" y="353" width="5" height="16" fill="#FF4500"/>
<rect x="1012" y="340" width="1" height="17" fill="#FF4500"/>
<rect x="1010" y="343" width="5" height="11" fill="#FF4500"/>
<rect x="1020" y="329" width="1" height="15" fill="#FF4500"/>
<rect x="1018" y="331" width="5" height="9" fill="#FF4500"/>
<rect x="1028" y="330" width="1" height="10" fill="#32CD32"/>
<rect x="1026" y="331" width="5" height="2" fill="#32CD32"/>
<rect x="1036" y="314" width="1" height="19" fill="#FF4500"/>
<rect x="1034" y="316" width="5" height="16" fill="#FF4500"/>
<rect x="1044" y="289" width="1" height="28" fill="#FF4500"/>
<rect x="1042" y="297" width="5" height="20" fill="#FF4500"/>
<rect x="1052" y="292" width="1" height="12" fill="#32CD32"/>
<rect x="1050" y="297" width="5" height="5" fill="#32CD32"/>
<rect x="1060" y="286" width="1" height="15" fill="#FF4500"/>
<rect x="1058" y="294" width="5" height="6" fill="#FF4500"/>
<rect x="1068" y="295" width="1" height="19" fill="#32CD32"/>
<rect x="1066" y="296" width="5" height="14" fill="#32CD32"/>
<rect x="1076" y="308" width="1" height="18" fill="#32CD32"/>
<rect x="1074" y="309" width="5" height="13" fill="#32CD32"/>
<rect x="1084" y="287" width="1" height="24" fill="#FF4500"/>
<rect x="1082" y="292" width="5" height="19" fill="#FF4500"/>
<rect x="1092" y="273" width="1" height="21" fill="#FF4500"/>
<rect x="1090" y="277" width="5" height="16" fill="#FF4500"/>
<rect x="1100" y="259" width="1" height="18" fill="#32CD32"/>
<rect x="1098" y="272" width="5" height="3" fill="#32CD32"/>
<rect x="1108" y="275" width="1" height="15" fill="#32CD32"/>
<rect x="1106" y="275" width="5" height="7" fill="#32CD32"/>
<rect x="1116" y="267" width="1" height="14" fill="#32CD32"/>
<rect x="1114" y="273" width="5" height="8" fill="#32CD32"/>
<rect x="1124" y="272" width="1" height="15" fill="#FF4500"/>
<rect x="1122" y="276" width="5" height="5" fill="#FF4500"/>
<rect x="1132" y="262" width="1" height="22" fill="#FF4500"/>
<rect x="1130" y="267" width="5" height="10" fill="#FF4500"/>
<rect x="1140" y="249" width="1" height="37" fill="#32CD32"/>
<rect x="1138" y="265" width="5" height="12" fill="#32CD32"/>
<rect x="1148" y="272" width="1" height="18" fill="#32CD32"/>
<rect x="1146" y="277" width="5" height="1" fill="#32CD32"/>
<rect x="1156" y="232" width="1" height="46" fill="#FF4500"/>
<rect x="1154" y="232" width="5" height="46" fill="#FF4500"/>
<rect x="1164" y="172" width="1" height="42" fill="#FF4500"/>
<rect x="1162" y="173" width="5" height="37" fill="#FF4500"/>
<rect x="1172" y="105" width="1" height="73" fill="#FF4500"/>
<rect x="1170" y="105" width="5" height="69" fill="#FF4500"/>
<rect x="1180" y="111" width="1" height="42" fill="#32CD32"/>
<rect x="1178" y="111" width="5" height="27" fill="#32CD32"/>
<rect x="1188" y="122" width="1" height="39" fill="#32CD32"/>
<rect x="1186" y="135" width="5" height="19" fill="#32CD32"/>
<rect x="1196" y="135" width="1" height="22" fill="#32CD32"/>
<rect x="1194" y="148" width="5" height="4" fill="#32CD32"/>
<rect x="1204" y="134" width="1" height="47" fill="#32CD32"/>
<rect x="1202" y="151" width="5" height="12" fill="#32CD32"/>
<rect x="1212" y="150" width="1" height="20" fill="#FF4500"/>
<rect x="1210" y="161" width="5" height="4" fill="#FF4500"/>
<rect x="1220" y="154" width="1" height="18" fill="#32CD32"/>
<rect x="1218" y="161" width="5" height="4" fill="#32CD32"/>
<rect x="1228" y="139" width="1" height="29" fill="#32CD32"/>
<rect x="1226" y="151" width="5" height="11" fill="#32CD32"/>
<rect x="1236" y="125" width="1" height="40" fill="#FF4500"/>
<rect x="1234" y="129" width="5" height="33" fill="#FF4500"/>
<rect x="1244" y="67" width="1" height="56" fill="#FF4500"/>
<rect x="1242" y="69" width="5" height="48" fill="#FF4500"/>
<rect x="1252" y="61" width="1" height="61" fill="#32CD32"/>
<rect x="1250" y="69" width="5" height="44" fill="#32CD32"/>
<rect x="1260" y="94" width="1" height="21" fill="#FF4500"/>
<rect x="1258" y="103" width="5" height="9" fill="#FF4500"/>
<rect x="1268" y="91" width="1" height="23" fill="#FF4500"/>
<rect x="1266" y="95" width="5" height="10" fill="#FF4500"/>
<rect x="1276" y="80" width="1" height="27" fill="#FF4500"/>
<rect x="1274" y="89" width="5" height="4" fill="#FF4500"/>
<rect x="1284" y="75" width="1" height="39" fill="#FF4500"/>
<rect x="1282" y="83" width="5" height="8" fill="#FF4500"/>
<rect x="1292" y="87" width="1" height="26" fill="#32CD32"/>
<rect x="1290" y="89" width="5" height="10" fill="#32CD32"/>
<rect x="1300" y="81" width="1" height="38" fill="#32CD32"/>
<rect x="1298" y="97" width="5" height="5" fill="#32CD32"/>
<rect x="1308" y="118" width="1" height="43" fill="#32CD32"/>
<rect x="1306" y="145" width="5" height="16" fill="#32CD32"/>
<rect x="1316" y="145" width="1" height="28" fill="#32CD32"/>
<rect x="1314" y="160" width="5" height="9" fill="#32CD32"/>
<rect x="1324" y="143" width="1" height="30" fill="#FF4500"/>
<rect x="1322" y="148" width="5" height="11" fill="#FF4500"/>
<rect x="1332" y="136" width="1" height="24" fill="#FF4500"/>
<rect x="1330" y="144" width="5" height="6" fill="#FF4500"/>
</g>
<g shape-rendering="crispEdges">
<rect x="1675" y="102" width="6" height="6" fill="#FF0000"/><rect x="1677" y="104" width="2" height="2" fill="#fff"/>
<rect x="11" y="102" width="2" height="6" fill="#FF0000"/>
<rect x="1675" y="162" width="6" height="6" fill="#00FF7F"/><rect x="1677" y="164" width="2" height="2" fill="#fff"/>
<rect x="11" y="162" width="6" height="6" fill="#00FF7F"/><rect x="13" y="164" width="2" height="2" fill="#fff"/>
<rect x="1675" y="288" width="6" height="6" fill="#0000FF"/><rect x="1677" y="290" width="2" height="2" fill="#fff"/>
<rect x="11" y="288" width="6" height="6" fill="#0000FF"/><rect x="13" y="290" width="2" height="2" fill="#fff"/>
<polygon points="1340,37 1351.4,37 1345.7,43" fill="#C0C0C0"/>
<rect x="12" y="572" width="1" height="6" fill="#C0C0C0"/>
<rect x="20" y="573" width="1" height="5" fill="#C0C0C0"/>
<rect x="28" y="573" width="1" height="5" fill="#C0C0C0"/>
<rect x="36" y="573" width="1" height="5" fill="#C0C0C0"/>
<rect x="44" y="574" width="1" height="4" fill="#C0C0C0"/>
<rect x="52" y="576" width="1" height="2" fill="#C0C0C0"/>
<rect x="60" y="577" width="1" height="1" fill="#C0C0C0"/>
<rect x="68" y="577" width="1" height="1" fill="#C0C0C0"/>
<rect x="76" y="577" width="1" height="1" fill="#C0C0C0"/>
<rect x="84" y="577" width="1" height="1" fill="#C0C0C0"/>
<rect x="92" y="576" width="1" height="2" fill="#C0C0C0"/>
<rect x="100" y="577" width="1" height="1" fill="#C0C0C0"/>
<rect x="108" y="577" width="1" height="1" fill="#C0C0C0"/>
<rect x="116" y="577" width="1" height="1" fill="#C0C0C0"/>
<rect x="124" y="575" width="1" height="3" fill="#C0C0C0"/>
<rect x="132" y="574" width="1" height="4" fill="#C0C0C0"/>
<rect x="140" y="572" width="1" height="6" fill="#C0C0C0"/>
<rect x="148" y="571" width="1" height="7" fill="#C0C0C0"/>
<rect x="156" y="573" width="1" height="5" fill="#C0C0C0"/>
<rect x="164" y="573" width="1" height="5" fill="#C0C0C0"/>
<rect x="172" y="574" width="1" height="4" fill="#C0C0C0"/>
<rect x="180" y="575" width="1" height="3" fill="#C0C0C0"/>
<rect x="188" y="577" width="1" height="1" fill="#C0C0C0"/>
<rect x="196" y="577" width="1" height="1" fill="#C0C0C0"/>
<rect x="204" y="577" width="1" height="1" fill="#C0C0C0"/>
<rect x="212" y="577" width="1" height="3" fill="#C0C0C0"/>
<rect x="220" y="577" width="1" height="4" fill="#C0C0C0"/>
<rect x="228" y="577" width="1" height="6" fill="#C0C0C0"/>
<rect x="236" y="577" width="1" height="6" fill="#C0C0C0"/>
<rect x="244" y="577" width="1" height="7" fill="#C0C0C0"/>
<rect x="252" y="577" width="1" height="6" fill="#C0C0C0"/>
<rect x="260" y="577" width="1" height="6" fill="#C0C0C0"/>
<rect x="268" y="577" width="1" height="6" fill="#C0C0C0"/>
<rect x="276" y="577" width="1" height="6" fill="#C0C0C0"/>
<rect x="284" y="577" width="1" height="6" fill="#C0C0C0"/>
<rect x="292" y="577" width="1" height="6" fill="#C0C0C0"/>
<rect x="300" y="577" width="1" height="3" fill="#C0C0C0"/>
<rect x="308" y="577" width="1" height="1" fill="#C0C0C0"/>
<rect x="316" y="577" width="1" height="1" fill="#C0C0C0"/>
<rect x="324" y="575" width="1" height="3" fill="#C0C0C0"/>
<rect x="332" y="574" width="1" height="4" fill="#C0C0C0"/>
<rect x="340" y="573" width="1" height="5" fill="#C0C0C0"/>
<rect x="348" y="574" width="1" height="4" fill="#C0C0C0"/>
<rect x="356" y="576" width="1" height="2" fill="#C0C0C0"/>
<rect x="364" y="577" width="1" height="1" fill="#C0C0C0"/>
<rect x="372" y="577" width="1" height="1" fill="#C0C0C0"/>
<rect x="380" y="577" width="1" height="1" fill="#C0C0C0"/>
<rect x="388" y="577" width="1" height="2" fill="#C0C0C0"/>
<rect x="396" y="577" width="1" height="3" fill="#C0C0C0"/>
<rect x="404" y="577" width="1" height="4" fill="#C0C0C0"/>
<rect x="412" y="577" width="1" height="4" fill="#C0C0C0"/>
<rect x="420" y="577" width="1" height="3" fill="#C0C0C0"/>
<rect x="428" y="577" width="1" height="3" fill="#C0C0C0"/>
<rect x="436" y="577" width="1" height="1" fill="#C0C0C0"/>
<rect x="444" y="577" width="1" height="1" fill="#C0C0C0"/>
<rect x="452" y="577" width="1" height="1" fill="#C0C0C0"/>
<rect x="460" y="577" width="1" height="2" fill="#C0C0C0"/>
<rect x="468" y="577" width="1" height="3" fill="#C0C0C0"/>
<rect x="476" y="577" width="1" height="3" fill="#C0C0C0"/>
<rect x="484" y="577" width="1" height="4" fill="#C0C0C0"/>
<rect x="492" y="577" width="1" height="5" fill="#C0C0C0"/>
<rect x="500" y="577" width="1" height="7" fill="#C0C0C0"/>
<rect x="508" y="577" width="1" height="8" fill="#C0C0C0"/>
<rect x="516" y="577" width="1" height="10" fill="#C0C0C0"/>
<rect x="524" y="577" width="1" height="12" fill="#C0C0C0"/>
<rect x="532" y="577" width="1" height="14" fill="#C0C0C0"/>
<rect x="540" y="577" width="1" height="15" fill="#C0C0C0"/>
<rect x="548" y="577" width="1" height="15" fill="#C0C0C0"/>
<rect x="556" y="577" width="1" height="17" fill="#C0C0C0"/>
<rect x="564" y="577" width="1" height="18" fill="#C0C0C0"/>
<rect x="572" y="577" width="1" height="18" fill="#C0C0C0"/>
<rect x="580" y="577" width="1" height="18" fill="#C0C0C0"/>
<rect x="588" y="577" width="1" height="17" fill="#C0C0C0"/>
<rect x="596" y="577" width="1" height="18" fill="#C0C0C0"/>
<rect x="604" y="577" width="1" height="16" fill="#C0C0C0"/>
<rect x="612" y="577" width="1" height="16" fill="#C0C0C0"/>
<rect x="620" y="577" width="1" height="16" fill="#C0C0C0"/>
<rect x="628" y="577" width="1" height="15" fill="#C0C0C0"/>
<rect x="636" y="577" width="1" height="15" fill="#C0C0C0"/>
<rect x="644" y="577" width="1" height="16" fill="#C0C0C0"/>
<rect x="652" y="577" width="1" height="15" fill="#C0C0C0"/>
<rect x="660" y="577" width="1" height="15" fill="#C0C0C0"/>
<rect x="668" y="577" width="1" height="14" fill="#C0C0C0"/>
<rect x="676" y="577" width="1" height="12" fill="#C0C0C0"/>
<rect x="684" y="577" width="1" height="10" fill="#C0C0C0"/>
<rect x="692" y="577" width="1" height="8" fill="#C0C0C0"/>
<rect x="700" y="577" width="1" height="7" fill="#C0C0C0"/>
<rect x="708" y="577" width="1" height="6" fill="#C0C0C0"/>
<rect x="716" y="577" width="1" height="3" fill="#C0C0C0"/>
<rect x="724" y="577" width="1" height="2" fill="#C0C0C0"/>
<rect x="732" y="577" width="1" height="1" fill="#C0C0C0"/>
<rect x="740" y="577" width="1" height="1" fill="#C0C0C0"/>
<rect x="748" y="576" width="1" height="2" fill="#C0C0C0"/>
<rect x="756" y="575" width="1" height="3" fill="#C0C0C0"/>
<rect x="764" y="575" width="1" height="3" fill="#C0C0C0"/>
<rect x="772" y="576" width="1" height="2" fill="#C0C0C0"/>
<rect x="780" y="576" width="1" height="2" fill="#C0C0C0"/>
<rect x="788" y="575" width="1" height="3" fill="#C0C0C0"/>
<rect x="796" y="573" width="1" height="5" fill="#C0C0C0"/>
<rect x="804" y="572" width="1" height="6" fill="#C0C0C0"/>
<rect x="812" y="571" width="1" height="7" fill="#C0C0C0"/>
<rect x="820" y="571" width="1" height="7" fill="#C0C0C0"/>
<rect x="828" y="571" width="1" height="7" fill="#C0C0C0"/>
<rect x="836" y="570" width="1" height="8" fill="#C0C0C0"/>
<rect x="844" y="568" width="1" height="10" fill="#C0C0C0"/>
<rect x="852" y="568" width="1" height="10" fill="#C0C0C0"/>
<rect x="860" y="568" width="1" height="10" fill="#C0C0C0"/>
<rect x="868" y="568" width="1" height="10" fill="#C0C0C0"/>
<rect x="876" y="569" width="1" height="9" fill="#C0C0C0"/>
<rect x="884" y="570" width="1" height="8" fill="#C0C0C0"/>
<rect x="892" y="570" width="1" height="8" fill="#C0C0C0"/>
<rect x="900" y="570" width="1" height="8" fill="#C0C0C0"/>
<rect x="908" y="570" width="1" height="8" fill="#C0C0C0"/>
<rect x="916" y="569" width="1" height="9" fill="#C0C0C0"/>
<rect x="924" y="568" width="1" height="10" fill="#C0C0C0"/>
<rect x="932" y="568" width="1" height="10" fill="#C0C0C0"/>
<rect x="940" y="569" width="1" height="9" fill="#C0C0C0"/>
<rect x="948" y="569" width="1" height="9" fill="#C0C0C0"/>
<rect x="956" y="569" width="1" height="9" fill="#C0C0C0"/>
<rect x="964" y="570" width="1" height="8" fill="#C0C0C0"/>
<rect x="972" y="570" width="1" height="8" fill="#C0C0C0"/>
<rect x="980" y="570" width="1" height="8" fill="#C0C0C0"/>
<rect x="988" y="570" width="1" height="8" fill="#C0C0C0"/>
<rect x="996" y="568" width="1" height="10" fill="#C0C0C0"/>
<rect x="1004" y="567" width="1" height="11" fill="#C0C0C0"/>
<rect x="1012" y="566" width="1" height="12" fill="#C0C0C0"/>
<rect x="1020" y="564" width="1" height="14" fill="#C0C0C0"/>
<rect x="1028" y="563" width="1" height="15" fill="#C0C0C0"/>
<rect x="1036" y="561" width="1" height="17" fill="#C0C0C0"/>
<rect x="1044" y="559" width="1" height="19" fill="#C0C0C0"/>
<rect x="1052" y="558" width="1" height="20" fill="#C0C0C0"/>
<rect x="1060" y="556" width="1" height="22" fill="#C0C0C0"/>
<rect x="1068" y="556" width="1" height="22" fill="#C0C0C0"/>
<rect x="1076" y="557" width="1" height="21" fill="#C0C0C0"/>
<rect x="1084" y="557" width="1" height="21" fill="#C0C0C0"/>
<rect x="1092" y="556" width="1" height="22" fill="#C0C0C0"/>
<rect x="1100" y="555" width="1" height="23" fill="#C0C0C0"/>
<rect x="1108" y="555" width="1" height="23" fill="#C0C0C0"/>
<rect x="1116" y="556" width="1" height="22" fill="#C0C0C0"/>
<rect x="1124" y="556" width="1" height="22" fill="#C0C0C0"/>
<rect x="1132" y="556" width="1" height="22" fill="#C0C0C0"/>
<rect x="1140" y="556" width="1" height="22" fill="#C0C0C0"/>
<rect x="1148" y="557" width="1" height="21" fill="#C0C0C0"/>
<rect x="1156" y="556" width="1" height="22" fill="#C0C0C0"/>
<rect x="1164" y="553" width="1" height="25" fill="#C0C0C0"/>
<rect x="1172" y="547" width="1" height="31" fill="#C0C0C0"/>
<rect x="1180" y="543" width="1" height="35" fill="#C0C0C0"/>
<rect x="1188" y="541" width="1" height="37" fill="#C0C0C0"/>
<rect x="1196" y="540" width="1" height="38" fill="#C0C0C0"/>
<rect x="1204" y="541" width="1" height="37" fill="#C0C0C0"/>
<rect x="1212" y="541" width="1" height="37" fill="#C0C0C0"/>
<rect x="1220" y="542" width="1" height="36" fill="#C0C0C0"/>
<rect x="1228" y="543" width="1" height="35" fill="#C0C0C0"/>
<rect x="1236" y="543" width="1" height="35" fill="#C0C0C0"/>
<rect x="1244" y="542" width="1" height="36" fill="#C0C0C0"/>
<rect x="1252" y="540" width="1" height="38" fill="#C0C0C0"/>
<rect x="1260" y="540" width="1" height="38" fill="#C0C0C0"/>
<rect x="1268" y="540" width="1" height="38" fill="#C0C0C0"/>
<rect x="1276" y="541" width="1" height="37" fill="#C0C0C0"/>
<rect x="1284" y="542" width="1" height="36" fill="#C0C0C0"/>
<rect x="1292" y="543" width="1" height="35" fill="#C0C0C0"/>
<rect x="1300" y="544" width="1" height="34" fill="#C0C0C0"/>
<rect x="1308" y="549" width="1" height="29" fill="#C0C0C0"/>
<rect x="1316" y="553" width="1" height="25" fill="#C0C0C0"/>
<rect x="1324" y="556" width="1" height="22" fill="#C0C0C0"/>
<rect x="1332" y="559" width="1" height="19" fill="#C0C0C0"/>
<path fill="#FF0000" d="M1260 540h3v1h-3zM1266 540h3v1h-3zM1272 540h1v1h-1zM1236 541h3v1h-3zM1242 541h3v1h-3zM1248 541h3v1h-3zM1254 541h3v1h-3zM1273 541h2v1h-2zM1278 541h3v1h-3zM1284 541h3v1h-3zM1290 541h3v1h-3zM1296 541h3v1h-3zM1302 541h3v1h-3zM1308 541h3v1h-3zM1231 542h2v1h-2zM1314 542h1v1h-1zM1225 543h2v1h-2zM1230 543h1v1h-1zM1315 543h2v1h-2zM1320 543h1v1h-1zM1219 544h2v1h-2zM1224 544h1v1h-1zM1321 544h2v1h-2zM1326 544h3v1h-3zM1218 545h1v1h-1zM1332 545h1v1h-1zM1212 546h3v1h-3zM1206 547h3v1h-3zM1200 548h3v1h-3zM1195 549h2v1h-2zM1194 550h1v1h-1zM1188 551h3v1h-3zM1182 552h3v1h-3zM1176 553h3v1h-3zM1170 554h3v1h-3zM1116 555h3v1h-3zM1122 555h3v1h-3zM1128 555h3v1h-3zM1134 555h3v1h-3zM1140 555h3v1h-3zM1146 555h3v1h-3zM1152 555h3v1h-3zM1158 555h3v1h-3zM1164 555h3v1h-3zM1098 556h3v1h-3zM1104 556h3v1h-3zM1110 556h3v1h-3zM1092 557h3v1h-3zM1081 558h2v1h-2zM1086 558h3v1h-3zM1074 559h3v1h-3zM1080 559h1v1h-1zM1068 560h3v1h-3zM1062 561h3v1h-3zM1056 562h3v1h-3zM1050 563h3v1h-3zM1044 564h3v1h-3zM1038 565h3v1h-3zM1032 566h3v1h-3zM1020 567h3v1h-3zM1026 567h3v1h-3zM876 568h3v1h-3zM882 568h3v1h-3zM888 568h3v1h-3zM894 568h3v1h-3zM900 568h3v1h-3zM906 568h3v1h-3zM912 568h3v1h-3zM918 568h3v1h-3zM924 568h3v1h-3zM930 568h3v1h-3zM936 568h3v1h-3zM942 568h3v1h-3zM948 568h3v1h-3zM954 568h3v1h-3zM960 568h3v1h-3zM966 568h3v1h-3zM972 568h3v1h-3zM978 568h3v1h-3zM984 568h3v1h-3zM990 568h3v1h-3zM996 568h3v1h-3zM1002 568h3v1h-3zM1008 568h3v1h-3zM1014 568h3v1h-3zM858 569h3v1h-3zM864 569h3v1h-3zM870 569h3v1h-3zM852 570h3v1h-3zM834 571h3v1h-3zM840 571h3v1h-3zM846 571h3v1h-3zM42 572h3v1h-3zM48 572h1v1h-1zM828 572h3v1h-3zM25 573h2v1h-2zM30 573h3v1h-3zM36 573h3v1h-3zM49 573h2v1h-2zM54 573h3v1h-3zM60 573h3v1h-3zM66 573h3v1h-3zM72 573h1v1h-1zM162 573h3v1h-3zM168 573h3v1h-3zM174 573h3v1h-3zM180 573h3v1h-3zM186 573h3v1h-3zM192 573h1v1h-1zM810 573h3v1h-3zM816 573h3v1h-3zM822 573h3v1h-3zM18 574h3v1h-3zM24 574h1v1h-1zM73 574h2v1h-2zM78 574h3v1h-3zM84 574h3v1h-3zM145 574h2v1h-2zM150 574h3v1h-3zM156 574h3v1h-3zM193 574h2v1h-2zM198 574h3v1h-3zM204 574h3v1h-3zM793 574h2v1h-2zM798 574h3v1h-3zM804 574h3v1h-3zM12 575h3v1h-3zM90 575h3v1h-3zM96 575h3v1h-3zM102 575h3v1h-3zM132 575h3v1h-3zM138 575h3v1h-3zM144 575h1v1h-1zM210 575h3v1h-3zM216 575h1v1h-1zM361 575h2v1h-2zM366 575h3v1h-3zM372 575h3v1h-3zM378 575h3v1h-3zM384 575h3v1h-3zM390 575h3v1h-3zM786 575h3v1h-3zM792 575h1v1h-1zM108 576h3v1h-3zM114 576h3v1h-3zM120 576h3v1h-3zM126 576h3v1h-3zM217 576h2v1h-2zM222 576h3v1h-3zM354 576h3v1h-3zM360 576h1v1h-1zM396 576h3v1h-3zM780 576h3v1h-3zM228 577h3v1h-3zM348 577h3v1h-3zM402 577h3v1h-3zM408 577h1v1h-1zM769 577h2v1h-2zM774 577h3v1h-3zM234 578h3v1h-3zM240 578h1v1h-1zM337 578h2v1h-2zM342 578h3v1h-3zM409 578h2v1h-2zM414 578h3v1h-3zM762 578h3v1h-3zM768 578h1v1h-1zM241 579h2v1h-2zM246 579h1v1h-1zM330 579h3v1h-3zM336 579h1v1h-1zM420 579h3v1h-3zM426 579h3v1h-3zM432 579h3v1h-3zM438 579h3v1h-3zM444 579h3v1h-3zM450 579h3v1h-3zM456 579h3v1h-3zM462 579h3v1h-3zM468 579h3v1h-3zM474 579h3v1h-3zM480 579h3v1h-3zM486 579h3v1h-3zM492 579h3v1h-3zM756 579h3v1h-3zM247 580h2v1h-2zM324 580h3v1h-3zM498 580h3v1h-3zM504 580h1v1h-1zM745 580h2v1h-2zM750 580h3v1h-3zM252 581h3v1h-3zM313 581h2v1h-2zM318 581h3v1h-3zM505 581h2v1h-2zM510 581h3v1h-3zM739 581h2v1h-2zM744 581h1v1h-1zM258 582h3v1h-3zM264 582h3v1h-3zM270 582h3v1h-3zM306 582h3v1h-3zM312 582h1v1h-1zM516 582h3v1h-3zM738 582h1v1h-1zM276 583h3v1h-3zM282 583h3v1h-3zM288 583h3v1h-3zM294 583h3v1h-3zM300 583h3v1h-3zM522 583h3v1h-3zM528 583h1v1h-1zM732 583h3v1h-3zM529 584h2v1h-2zM534 584h3v1h-3zM727 584h2v1h-2zM540 585h3v1h-3zM721 585h2v1h-2zM726 585h1v1h-1zM546 586h1v1h-1zM714 586h3v1h-3zM720 586h1v1h-1zM547 587h2v1h-2zM552 587h1v1h-1zM708 587h3v1h-3zM553 588h2v1h-2zM558 588h3v1h-3zM697 588h2v1h-2zM702 588h3v1h-3zM564 589h3v1h-3zM690 589h3v1h-3zM696 589h1v1h-1zM570 590h3v1h-3zM576 590h1v1h-1zM684 590h3v1h-3zM577 591h2v1h-2zM582 591h3v1h-3zM666 591h3v1h-3zM672 591h3v1h-3zM678 591h3v1h-3zM588 592h3v1h-3zM636 592h3v1h-3zM642 592h3v1h-3zM648 592h3v1h-3zM654 592h3v1h-3zM660 592h3v1h-3zM594 593h3v1h-3zM600 593h3v1h-3zM606 593h3v1h-3zM612 593h3v1h-3zM618 593h3v1h-3zM624 593h3v1h-3zM630 593h3v1h-3z"/>
<path fill="#C0C0C0" d="M13 639h3v1h-3zM19 639h3v1h-3zM25 639h3v1h-3zM31 639h3v1h-3zM37 639h3v1h-3zM43 639h3v1h-3zM49 639h3v1h-3zM55 639h3v1h-3zM61 639h3v1h-3zM67 639h3v1h-3zM73 639h3v1h-3zM79 639h3v1h-3zM85 639h3v1h-3zM91 639h3v1h-3zM97 639h3v1h-3zM103 639h3v1h-3zM109 639h3v1h-3zM115 639h3v1h-3zM121 639h3v1h-3zM127 639h3v1h-3zM133 639h3v1h-3zM139 639h3v1h-3zM145 639h3v1h-3zM151 639h3v1h-3zM157 639h3v1h-3zM163 639h3v1h-3zM169 639h3v1h-3zM175 639h3v1h-3zM181 639h3v1h-3zM187 639h3v1h-3zM193 639h3v1h-3zM199 639h3v1h-3zM205 639h3v1h-3zM211 639h3v1h-3zM217 639h3v1h-3zM223 639h3v1h-3zM229 639h3v1h-3zM235 639h3v1h-3zM241 639h3v1h-3zM247 639h3v1h-3zM253 639h3v1h-3zM259 639h3v1h-3zM265 639h3v1h-3zM271 639h3v1h-3zM277 639h3v1h-3zM283 639h3v1h-3zM289 639h3v1h-3zM295 639h3v1h-3zM301 639h3v1h-3zM307 639h3v1h-3zM313 639h3v1h-3zM319 639h3v1h-3zM325 639h3v1h-3zM331 639h3v1h-3zM337 639h3v1h-3zM343 639h3v1h-3zM349 639h3v1h-3zM355 639h3v1h-3zM361 639h3v1h-3zM367 639h3v1h-3zM373 639h3v1h-3zM379 639h3v1h-3zM385 639h3v1h-3zM391 639h3v1h-3zM397 639h3v1h-3zM403 639h3v1h-3zM409 639h3v1h-3zM415 639h3v1h-3zM421 639h3v1h-3zM427 639h3v1h-3zM433 639h3v1h-3zM439 639h3v1h-3zM445 639h3v1h-3zM451 639h3v1h-3zM457 639h3v1h-3zM463 639h3v1h-3zM469 639h3v1h-3zM475 639h3v1h-3zM481 639h3v1h-3zM487 639h3v1h-3zM493 639h3v1h-3zM499 639h3v1h-3zM505 639h3v1h-3zM511 639h3v1h-3zM517 639h3v1h-3zM523 639h3v1h-3zM529 639h3v1h-3zM535 639h3v1h-3zM541 639h3v1h-3zM547 639h3v1h-3zM553 639h3v1h-3zM559 639h3v1h-3zM565 639h3v1h-3zM571 639h3v1h-3zM577 639h3v1h-3zM583 639h3v1h-3zM589 639h3v1h-3zM595 639h3v1h-3zM601 639h3v1h-3zM607 639h3v1h-3zM613 639h3v1h-3zM619 639h3v1h-3zM625 639h3v1h-3zM631 639h3v1h-3zM637 639h3v1h-3zM643 639h3v1h-3zM649 639h3v1h-3zM655 639h3v1h-3zM661 639h3v1h-3zM667 639h3v1h-3zM673 639h3v1h-3zM679 639h3v1h-3zM685 639h3v1h-3zM691 639h3v1h-3zM697 639h3v1h-3zM703 639h3v1h-3zM709 639h3v1h-3zM715 639h3v1h-3zM721 639h3v1h-3zM727 639h3v1h-3zM733 639h3v1h-3zM739 639h3v1h-3zM745 639h3v1h-3zM751 639h3v1h-3zM757 639h3v1h-3zM763 639h3v1h-3zM769 639h3v1h-3zM775 639h3v1h-3zM781 639h3v1h-3zM787 639h3v1h-3zM793 639h3v1h-3zM799 639h3v1h-3zM805 639h3v1h-3zM811 639h3v1h-3zM817 639h3v1h-3zM823 639h3v1h-3zM829 639h3v1h-3zM835 639h3v1h-3zM841 639h3v1h-3zM847 639h3v1h-3zM853 639h3v1h-3zM859 639h3v1h-3zM865 639h3v1h-3zM871 639h3v1h-3zM877 639h3v1h-3zM883 639h3v1h-3zM889 639h3v1h-3zM895 639h3v1h-3zM901 639h3v1h-3zM907 639h3v1h-3zM913 639h3v1h-3zM919 639h3v1h-3zM925 639h3v1h-3zM931 639h3v1h-3zM937 639h3v1h-3zM943 639h3v1h-3zM949 639h3v1h-3zM955 639h3v1h-3zM961 639h3v1h-3zM967 639h3v1h-3zM973 639h3v1h-3zM979 639h3v1h-3zM985 639h3v1h-3zM991 639h3v1h-3zM997 639h3v1h-3zM1003 639h3v1h-3zM1009 639h3v1h-3zM1015 639h3v1h-3zM1021 639h3v1h-3zM1027 639h3v1h-3zM1033 639h3v1h-3zM1039 639h3v1h-3zM1045 639h3v1h-3zM1051 639h3v1h-3zM1057 639h3v1h-3zM1063 639h3v1h-3zM1069 639h3v1h-3zM1075 639h3v1h-3zM1081 639h3v1h-3zM1087 639h3v1h-3zM1093 639h3v1h-3zM1099 639h3v1h-3zM1105 639h3v1h-3zM1111 639h3v1h-3zM1117 639h3v1h-3zM1123 639h3v1h-3zM1129 639h3v1h-3zM1135 639h3v1h-3zM1141 639h3v1h-3zM1147 639h3v1h-3zM1153 639h3v1h-3zM1159 639h3v1h-3zM1165 639h3v1h-3zM1171 639h3v1h-3zM1177 639h3v1h-3zM1183 639h3v1h-3zM1189 639h3v1h-3zM1195 639h3v1h-3zM1201 639h3v1h-3zM1207 639h3v1h-3zM1213 639h3v1h-3zM1219 639h3v1h-3zM1225 639h3v1h-3zM1231 639h3v1h-3zM1237 639h3v1h-3zM1243 639h3v1h-3zM1249 639h3v1h-3zM1255 639h3v1h-3zM1261 639h3v1h-3zM1267 639h3v1h-3zM1273 639h3v1h-3zM1279 639h3v1h-3zM1285 639h3v1h-3zM1291 639h3v1h-3zM1297 639h3v1h-3zM1303 639h3v1h-3zM1309 639h3v1h-3zM1315 639h3v1h-3zM1321 639h3v1h-3zM1327 639h3v1h-3zM1333 639h3v1h-3zM1339 639h3v1h-3zM1345 639h3v1h-3zM1351 639h3v1h-3zM1357 639h3v1h-3zM1363 639h3v1h-3zM1369 639h3v1h-3zM1375 639h3v1h-3zM1381 639h3v1h-3zM1387 639h3v1h-3zM1393 639h3v1h-3zM1399 639h3v1h-3zM1405 639h3v1h-3zM1411 639h3v1h-3zM1417 639h3v1h-3zM1423 639h3v1h-3zM1429 639h3v1h-3zM1435 639h3v1h-3zM1441 639h3v1h-3zM1447 639h3v1h-3zM1453 639h3v1h-3zM1459 639h3v1h-3zM1465 639h3v1h-3zM1471 639h3v1h-3zM1477 639h3v1h-3zM1483 639h3v1h-3zM1489 639h3v1h-3zM1495 639h3v1h-3zM1501 639h3v1h-3zM1507 639h3v1h-3zM1513 639h3v1h-3zM1519 639h3v1h-3zM1525 639h3v1h-3zM1531 639h3v1h-3zM1537 639h3v1h-3zM1543 639h3v1h-3zM1549 639h3v1h-3zM1555 639h3v1h-3zM1561 639h3v1h-3zM1567 639h3v1h-3zM1573 639h3v1h-3zM1579 639h3v1h-3zM1585 639h3v1h-3zM1591 639h3v1h-3zM1597 639h3v1h-3zM1603 639h3v1h-3zM1609 639h3v1h-3zM1615 639h3v1h-3zM1621 639h3v1h-3zM1627 639h3v1h-3zM1633 639h3v1h-3zM1639 639h3v1h-3zM1645 639h3v1h-3zM1651 639h3v1h-3zM1657 639h3v1h-3zM1663 639h3v1h-3zM1669 639h3v1h-3zM1675 639h3v1h-3z"/>
<path fill="#C0C0C0" d="M13 689h3v1h-3zM19 689h3v1h-3zM25 689h3v1h-3zM31 689h3v1h-3zM37 689h3v1h-3zM43 689h3v1h-3zM49 689h3v1h-3zM55 689h3v1h-3zM61 689h3v1h-3zM67 689h3v1h-3zM73 689h3v1h-3zM79 689h3v1h-3zM85 689h3v1h-3zM91 689h3v1h-3zM97 689h3v1h-3zM103 689h3v1h-3zM109 689h3v1h-3zM115 689h3v1h-3zM121 689h3v1h-3zM127 689h3v1h-3zM133 689h3v1h-3zM139 689h3v1h-3zM145 689h3v1h-3zM151 689h3v1h-3zM157 689h3v1h-3zM163 689h3v1h-3zM169 689h3v1h-3zM175 689h3v1h-3zM181 689h3v1h-3zM187 689h3v1h-3zM193 689h3v1h-3zM199 689h3v1h-3zM205 689h3v1h-3zM211 689h3v1h-3zM217 689h3v1h-3zM223 689h3v1h-3zM229 689h3v1h-3zM235 689h3v1h-3zM241 689h3v1h-3zM247 689h3v1h-3zM253 689h3v1h-3zM259 689h3v1h-3zM265 689h3v1h-3zM271 689h3v1h-3zM277 689h3v1h-3zM283 689h3v1h-3zM289 689h3v1h-3zM295 689h3v1h-3zM301 689h3v1h-3zM307 689h3v1h-3zM313 689h3v1h-3zM319 689h3v1h-3zM325 689h3v1h-3zM331 689h3v1h-3zM337 689h3v1h-3zM343 689h3v1h-3zM349 689h3v1h-3zM355 689h3v1h-3zM361 689h3v1h-3zM367 689h3v1h-3zM373 689h3v1h-3zM379 689h3v1h-3zM385 689h3v1h-3zM391 689h3v1h-3zM397 689h3v1h-3zM403 689h3v1h-3zM409 689h3v1h-3zM415 689h3v1h-3zM421 689h3v1h-3zM427 689h3v1h-3zM433 689h3v1h-3zM439 689h3v1h-3zM445 689h3v1h-3zM451 689h3v1h-3zM457 689h3v1h-3zM463 689h3v1h-3zM469 689h3v1h-3zM475 689h3v1h-3zM481 689h3v1h-3zM487 689h3v1h-3zM493 689h3v1h-3zM499 689h3v1h-3zM505 689h3v1h-3zM511 689h3v1h-3zM517 689h3v1h-3zM523 689h3v1h-3zM529 689h3v1h-3zM535 689h3v1h-3zM541 689h3v1h-3zM547 689h3v1h-3zM553 689h3v1h-3zM559 689h3v1h-3zM565 689h3v1h-3zM571 689h3v1h-3zM577 689h3v1h-3zM583 689h3v1h-3zM589 689h3v1h-3zM595 689h3v1h-3zM601 689h3v1h-3zM607 689h3v1h-3zM613 689h3v1h-3zM619 689h3v1h-3zM625 689h3v1h-3zM631 689h3v1h-3zM637 689h3v1h-3zM643 689h3v1h-3zM649 689h3v1h-3zM655 689h3v1h-3zM661 689h3v1h-3zM667 689h3v1h-3zM673 689h3v1h-3zM679 689h3v1h-3zM685 689h3v1h-3zM691 689h3v1h-3zM697 689h3v1h-3zM703 689h3v1h-3zM709 689h3v1h-3zM715 689h3v1h-3zM721 689h3v1h-3zM727 689h3v1h-3zM733 689h3v1h-3zM739 689h3v1h-3zM745 689h3v1h-3zM751 689h3v1h-3zM757 689h3v1h-3zM763 689h3v1h-3zM769 689h3v1h-3zM775 689h3v1h-3zM781 689h3v1h-3zM787 689h3v1h-3zM793 689h3v1h-3zM799 689h3v1h-3zM805 689h3v1h-3zM811 689h3v1h-3zM817 689h3v1h-3zM823 689h3v1h-3zM829 689h3v1h-3zM835 689h3v1h-3zM841 689h3v1h-3zM847 689h3v1h-3zM853 689h3v1h-3zM859 689h3v1h-3zM865 689h3v1h-3zM871 689h3v1h-3zM877 689h3v1h-3zM883 689h3v1h-3zM889 689h3v1h-3zM895 689h3v1h-3zM901 689h3v1h-3zM907 689h3v1h-3zM913 689h3v1h-3zM919 689h3v1h-3zM925 689h3v1h-3zM931 689h3v1h-3zM937 689h3v1h-3zM943 689h3v1h-3zM949 689h3v1h-3zM955 689h3v1h-3zM961 689h3v1h-3zM967 689h3v1h-3zM973 689h3v1h-3zM979 689h3v1h-3zM985 689h3v1h-3zM991 689h3v1h-3zM997 689h3v1h-3zM1003 689h3v1h-3zM1009 689h3v1h-3zM1015 689h3v1h-3zM1021 689h3v1h-3zM1027 689h3v1h-3zM1033 689h3v1h-3zM1039 689h3v1h-3zM1045 689h3v1h-3zM1051 689h3v1h-3zM1057 689h3v1h-3zM1063 689h3v1h-3zM1069 689h3v1h-3zM1075 689h3v1h-3zM1081 689h3v1h-3zM1087 689h3v1h-3zM1093 689h3v1h-3zM1099 689h3v1h-3zM1105 689h3v1h-3zM1111 689h3v1h-3zM1117 689h3v1h-3zM1123 689h3v1h-3zM1129 689h3v1h-3zM1135 689h3v1h-3zM1141 689h3v1h-3zM1147 689h3v1h-3zM1153 689h3v1h-3zM1159 689h3v1h-3zM1165 689h3v1h-3zM1171 689h3v1h-3zM1177 689h3v1h-3zM1183 689h3v1h-3zM1189 689h3v1h-3zM1195 689h3v1h-3zM1201 689h3v1h-3zM1207 689h3v1h-3zM1213 689h3v1h-3zM1219 689h3v1h-3zM1225 689h3v1h-3zM1231 689h3v1h-3zM1237 689h3v1h-3zM1243 689h3v1h-3zM1249 689h3v1h-3zM1255 689h3v1h-3zM1261 689h3v1h-3zM1267 689h3v1h-3zM1273 689h3v1h-3zM1279 689h3v1h-3zM1285 689h3v1h-3zM1291 689h3v1h-3zM1297 689h3v1h-3zM1303 689h3v1h-3zM1309 689h3v1h-3zM1315 689h3v1h-3zM1321 689h3v1h-3zM1327 689h3v1h-3zM1333 689h3v1h-3zM1339 689h3v1h-3zM1345 689h3v1h-3zM1351 689h3v1h-3zM1357 689h3v1h-3zM1363 689h3v1h-3zM1369 689h3v1h-3zM1375 689h3v1h-3zM1381 689h3v1h-3zM1387 689h3v1h-3zM1393 689h3v1h-3zM1399 689h3v1h-3zM1405 689h3v1h-3zM1411 689h3v1h-3zM1417 689h3v1h-3zM1423 689h3v1h-3zM1429 689h3v1h-3zM1435 689h3v1h-3zM1441 689h3v1h-3zM1447 689h3v1h-3zM1453 689h3v1h-3zM1459 689h3v1h-3zM1465 689h3v1h-3zM1471 689h3v1h-3zM1477 689h3v1h-3zM1483 689h3v1h-3zM1489 689h3v1h-3zM1495 689h3v1h-3zM1501 689h3v1h-3zM1507 689h3v1h-3zM1513 689h3v1h-3zM1519 689h3v1h-3zM1525 689h3v1h-3zM1531 689h3v1h-3zM1537 689h3v1h-3zM1543 689h3v1h-3zM1549 689h3v1h-3zM1555 689h3v1h-3zM1561 689h3v1h-3zM1567 689h3v1h-3zM1573 689h3v1h-3zM1579 689h3v1h-3zM1585 689h3v1h-3zM1591 689h3v1h-3zM1597 689h3v1h-3zM1603 689h3v1h-3zM1609 689h3v1h-3zM1615 689h3v1h-3zM1621 689h3v1h-3zM1627 689h3v1h-3zM1633 689h3v1h-3zM1639 689h3v1h-3zM1645 689h3v1h-3zM1651 689h3v1h-3zM1657 689h3v1h-3zM1663 689h3v1h-3zM1669 689h3v1h-3zM1675 689h3v1h-3z"/>
<path fill="#1E90FF" d="M1172 616h1v1h-1zM1170 617h2v1h-2zM1173 617h1v2h-1zM1169 618h1v1h-1zM1167 619h2v1h-2zM1174 619h1v1h-1zM1165 620h2v1h-2zM1175 620h1v2h-1zM1164 621h1v1h-1zM1163 622h1v1h-1zM1176 622h1v1h-1zM1044 623h2v1h-2zM1162 623h1v1h-1zM1177 623h1v2h-1zM1042 624h2v1h-2zM1046 624h3v1h-3zM1059 624h2v1h-2zM1161 624h1v1h-1zM1040 625h2v1h-2zM1049 625h2v1h-2zM1055 625h4v1h-4zM1061 625h1v2h-1zM1160 625h1v2h-1zM1178 625h1v1h-1zM1038 626h2v1h-2zM1051 626h4v1h-4zM1179 626h1v2h-1zM1244 626h1v1h-1zM1036 627h2v1h-2zM1062 627h1v1h-1zM1159 627h1v1h-1zM1243 627h1v1h-1zM1245 627h1v2h-1zM1034 628h2v1h-2zM1063 628h1v1h-1zM1158 628h1v1h-1zM1180 628h1v1h-1zM1242 628h1v1h-1zM1019 629h4v1h-4zM1032 629h2v1h-2zM1064 629h1v2h-1zM1157 629h1v1h-1zM1181 629h2v1h-2zM1241 629h1v1h-1zM1246 629h1v2h-1zM1017 630h2v1h-2zM1023 630h4v1h-4zM1030 630h2v1h-2zM1156 630h1v1h-1zM1183 630h1v1h-1zM1240 630h1v1h-1zM1014 631h3v1h-3zM1027 631h3v1h-3zM1065 631h1v1h-1zM1155 631h1v1h-1zM1184 631h1v1h-1zM1239 631h1v1h-1zM1247 631h1v2h-1zM1011 632h3v1h-3zM1066 632h1v1h-1zM1097 632h4v1h-4zM1154 632h1v2h-1zM1185 632h2v1h-2zM1238 632h1v1h-1zM1007 633h4v1h-4zM1067 633h1v2h-1zM1092 633h5v1h-5zM1101 633h2v1h-2zM1187 633h1v1h-1zM1237 633h1v1h-1zM1248 633h1v2h-1zM1004 634h3v1h-3zM1090 634h2v1h-2zM1103 634h2v1h-2zM1129 634h4v1h-4zM1153 634h1v1h-1zM1188 634h10v1h-10zM1236 634h1v1h-1zM1002 635h2v1h-2zM1068 635h1v1h-1zM1088 635h2v1h-2zM1105 635h1v1h-1zM1121 635h8v1h-8zM1133 635h2v1h-2zM1152 635h1v1h-1zM1198 635h2v1h-2zM1234 635h2v1h-2zM1249 635h1v2h-1zM1001 636h1v1h-1zM1069 636h1v2h-1zM1086 636h2v1h-2zM1106 636h2v1h-2zM1113 636h8v1h-8zM1135 636h1v1h-1zM1151 636h1v1h-1zM1200 636h2v1h-2zM1233 636h1v1h-1zM999 637h2v1h-2zM1084 637h2v1h-2zM1108 637h5v1h-5zM1136 637h1v1h-1zM1150 637h1v2h-1zM1202 637h2v1h-2zM1231 637h2v1h-2zM1250 637h1v2h-1zM1281 637h4v1h-4zM997 638h2v1h-2zM1070 638h1v1h-1zM1083 638h1v1h-1zM1137 638h2v1h-2zM1204 638h13v1h-13zM1229 638h2v1h-2zM1267 638h14v1h-14zM1285 638h2v1h-2zM996 639h1v1h-1zM1071 639h1v1h-1zM1082 639h1v1h-1zM1139 639h1v1h-1zM1149 639h1v1h-1zM1217 639h12v1h-12zM1251 639h1v2h-1zM1263 639h4v1h-4zM1287 639h1v1h-1zM994 640h2v1h-2zM1072 640h1v2h-1zM1081 640h1v1h-1zM1140 640h9v1h-9zM1257 640h6v1h-6zM1288 640h1v1h-1zM844 641h2v1h-2zM993 641h1v1h-1zM1080 641h1v2h-1zM1252 641h5v1h-5zM1289 641h2v1h-2zM842 642h2v1h-2zM846 642h3v1h-3zM991 642h2v1h-2zM1073 642h1v1h-1zM1291 642h1v1h-1zM840 643h2v1h-2zM849 643h2v1h-2zM989 643h2v1h-2zM1074 643h1v1h-1zM1079 643h1v1h-1zM1292 643h5v1h-5zM838 644h2v1h-2zM851 644h2v1h-2zM924 644h1v1h-1zM988 644h1v1h-1zM1075 644h1v2h-1zM1078 644h1v1h-1zM1297 644h4v1h-4zM836 645h2v1h-2zM853 645h1v1h-1zM922 645h2v1h-2zM925 645h1v1h-1zM986 645h2v1h-2zM1077 645h1v1h-1zM1300 645h1v1h-1zM716 646h1v1h-1zM811 646h2v1h-2zM834 646h2v1h-2zM854 646h1v1h-1zM908 646h3v1h-3zM920 646h2v1h-2zM926 646h1v1h-1zM985 646h1v1h-1zM1076 646h1v1h-1zM1301 646h1v2h-1zM715 647h1v2h-1zM717 647h1v2h-1zM809 647h2v1h-2zM813 647h1v1h-1zM832 647h2v1h-2zM855 647h2v1h-2zM907 647h1v1h-1zM911 647h4v1h-4zM918 647h2v1h-2zM927 647h1v1h-1zM983 647h2v1h-2zM787 648h3v1h-3zM806 648h3v1h-3zM814 648h1v1h-1zM830 648h2v1h-2zM857 648h1v1h-1zM905 648h2v1h-2zM915 648h3v1h-3zM928 648h1v2h-1zM947 648h10v1h-10zM981 648h2v1h-2zM1302 648h1v2h-1zM300 649h2v1h-2zM714 649h1v2h-1zM718 649h1v1h-1zM783 649h4v1h-4zM790 649h3v1h-3zM803 649h3v1h-3zM815 649h1v1h-1zM828 649h2v1h-2zM858 649h1v1h-1zM904 649h1v1h-1zM945 649h2v1h-2zM957 649h1v1h-1zM979 649h2v1h-2zM300 650h1v1h-1zM302 650h2v1h-2zM719 650h1v2h-1zM780 650h3v1h-3zM793 650h2v1h-2zM799 650h4v1h-4zM816 650h1v2h-1zM827 650h1v1h-1zM859 650h1v1h-1zM903 650h1v1h-1zM929 650h1v1h-1zM942 650h3v1h-3zM958 650h1v1h-1zM975 650h4v1h-4zM1303 650h1v2h-1zM299 651h1v2h-1zM304 651h2v1h-2zM329 651h4v1h-4zM713 651h1v2h-1zM779 651h1v2h-1zM795 651h4v1h-4zM825 651h2v1h-2zM860 651h2v1h-2zM901 651h2v1h-2zM930 651h1v1h-1zM939 651h3v1h-3zM959 651h1v1h-1zM972 651h3v1h-3zM147 652h2v1h-2zM306 652h2v1h-2zM321 652h8v1h-8zM333 652h2v1h-2zM720 652h1v1h-1zM817 652h1v1h-1zM824 652h1v1h-1zM862 652h2v1h-2zM897 652h4v1h-4zM931 652h1v1h-1zM935 652h4v1h-4zM960 652h1v2h-1zM971 652h1v1h-1zM1304 652h1v3h-1zM124 653h2v1h-2zM145 653h2v1h-2zM149 653h1v2h-1zM298 653h1v2h-1zM308 653h13v1h-13zM335 653h2v1h-2zM428 653h2v1h-2zM712 653h1v1h-1zM721 653h1v2h-1zM732 653h1v1h-1zM756 653h1v1h-1zM778 653h1v1h-1zM818 653h1v1h-1zM823 653h1v1h-1zM864 653h2v1h-2zM892 653h5v1h-5zM932 653h3v1h-3zM969 653h2v1h-2zM123 654h1v1h-1zM126 654h2v1h-2zM142 654h3v1h-3zM337 654h1v1h-1zM428 654h1v1h-1zM430 654h2v1h-2zM711 654h1v2h-1zM730 654h2v1h-2zM733 654h2v1h-2zM754 654h2v1h-2zM757 654h1v1h-1zM777 654h1v1h-1zM819 654h1v1h-1zM821 654h2v1h-2zM866 654h2v1h-2zM891 654h1v1h-1zM961 654h1v1h-1zM968 654h1v1h-1zM121 655h2v1h-2zM128 655h2v1h-2zM139 655h3v1h-3zM150 655h1v2h-1zM297 655h1v2h-1zM338 655h2v1h-2zM427 655h1v2h-1zM432 655h2v1h-2zM722 655h1v1h-1zM729 655h1v1h-1zM735 655h1v1h-1zM752 655h2v1h-2zM758 655h1v1h-1zM776 655h1v2h-1zM820 655h1v1h-1zM868 655h10v1h-10zM889 655h2v1h-2zM962 655h1v1h-1zM967 655h1v1h-1zM1305 655h1v2h-1zM12 656h1v1h-1zM120 656h1v1h-1zM130 656h2v1h-2zM135 656h4v1h-4zM340 656h1v1h-1zM434 656h2v1h-2zM710 656h1v2h-1zM723 656h1v2h-1zM727 656h2v1h-2zM736 656h1v1h-1zM750 656h2v1h-2zM759 656h1v1h-1zM878 656h2v1h-2zM888 656h1v1h-1zM963 656h1v1h-1zM965 656h2v1h-2zM13 657h1v1h-1zM119 657h1v1h-1zM132 657h3v1h-3zM151 657h1v1h-1zM296 657h1v3h-1zM341 657h1v2h-1zM426 657h1v2h-1zM436 657h1v1h-1zM725 657h2v1h-2zM737 657h2v1h-2zM747 657h3v1h-3zM760 657h1v1h-1zM775 657h1v1h-1zM880 657h2v1h-2zM887 657h1v1h-1zM964 657h1v1h-1zM1306 657h1v2h-1zM14 658h1v1h-1zM117 658h2v1h-2zM152 658h1v2h-1zM437 658h1v1h-1zM709 658h1v2h-1zM724 658h1v1h-1zM739 658h1v1h-1zM743 658h4v1h-4zM761 658h1v1h-1zM774 658h1v1h-1zM882 658h2v1h-2zM885 658h2v1h-2zM1331 658h2v1h-2zM15 659h2v1h-2zM28 659h2v1h-2zM83 659h6v1h-6zM115 659h2v1h-2zM342 659h1v1h-1zM425 659h1v2h-1zM438 659h1v1h-1zM740 659h3v1h-3zM762 659h1v1h-1zM773 659h1v2h-1zM884 659h1v1h-1zM1307 659h1v2h-1zM1327 659h4v1h-4zM17 660h1v1h-1zM26 660h2v1h-2zM30 660h2v1h-2zM81 660h2v1h-2zM89 660h4v1h-4zM111 660h4v1h-4zM153 660h1v1h-1zM295 660h1v2h-1zM343 660h1v1h-1zM439 660h1v1h-1zM697 660h12v1h-12zM763 660h1v1h-1zM1324 660h3v1h-3zM18 661h1v1h-1zM24 661h2v1h-2zM32 661h2v1h-2zM78 661h3v1h-3zM93 661h2v1h-2zM108 661h3v1h-3zM154 661h1v2h-1zM344 661h1v2h-1zM424 661h1v2h-1zM440 661h1v1h-1zM689 661h8v1h-8zM764 661h9v1h-9zM1308 661h1v1h-1zM1322 661h2v1h-2zM19 662h1v1h-1zM22 662h2v1h-2zM34 662h2v1h-2zM75 662h3v1h-3zM95 662h2v1h-2zM106 662h2v1h-2zM294 662h1v2h-1zM441 662h1v1h-1zM681 662h8v1h-8zM1308 662h2v1h-2zM1321 662h1v1h-1zM20 663h2v1h-2zM36 663h1v1h-1zM71 663h4v1h-4zM97 663h1v1h-1zM104 663h2v1h-2zM155 663h1v2h-1zM345 663h1v1h-1zM423 663h1v2h-1zM442 663h1v1h-1zM675 663h6v1h-6zM1310 663h3v1h-3zM1319 663h2v1h-2zM37 664h2v1h-2zM65 664h6v1h-6zM98 664h2v1h-2zM102 664h2v1h-2zM293 664h1v2h-1zM346 664h1v1h-1zM443 664h1v1h-1zM671 664h4v1h-4zM1313 664h2v1h-2zM1317 664h2v1h-2zM39 665h2v1h-2zM60 665h5v1h-5zM100 665h2v1h-2zM156 665h25v1h-25zM347 665h1v2h-1zM422 665h1v2h-1zM444 665h2v1h-2zM668 665h3v1h-3zM1315 665h2v1h-2zM41 666h1v1h-1zM58 666h2v1h-2zM181 666h2v1h-2zM196 666h1v1h-1zM267 666h2v1h-2zM292 666h1v1h-1zM446 666h2v1h-2zM668 666h1v1h-1zM42 667h2v1h-2zM57 667h1v1h-1zM183 667h1v1h-1zM194 667h2v1h-2zM197 667h1v1h-1zM252 667h5v1h-5zM263 667h4v1h-4zM269 667h1v1h-1zM291 667h2v1h-2zM348 667h5v1h-5zM421 667h1v2h-1zM448 667h2v1h-2zM667 667h1v3h-1zM44 668h3v1h-3zM55 668h2v1h-2zM184 668h1v1h-1zM193 668h1v1h-1zM198 668h1v1h-1zM251 668h1v2h-1zM257 668h6v1h-6zM270 668h1v1h-1zM289 668h2v1h-2zM353 668h14v1h-14zM450 668h2v1h-2zM47 669h4v1h-4zM53 669h2v1h-2zM185 669h2v1h-2zM191 669h2v1h-2zM199 669h1v1h-1zM271 669h1v1h-1zM286 669h3v1h-3zM367 669h4v1h-4zM420 669h1v1h-1zM452 669h5v1h-5zM465 669h4v1h-4zM51 670h2v1h-2zM187 670h1v1h-1zM189 670h2v1h-2zM200 670h1v1h-1zM250 670h1v1h-1zM272 670h1v1h-1zM284 670h2v1h-2zM371 670h2v1h-2zM417 670h4v1h-4zM457 670h8v1h-8zM469 670h1v1h-1zM666 670h1v3h-1zM188 671h1v1h-1zM201 671h1v1h-1zM249 671h1v1h-1zM273 671h1v1h-1zM282 671h2v1h-2zM373 671h2v1h-2zM409 671h8v1h-8zM470 671h1v1h-1zM202 672h1v1h-1zM248 672h1v2h-1zM274 672h1v1h-1zM280 672h2v1h-2zM375 672h2v1h-2zM403 672h6v1h-6zM471 672h1v1h-1zM203 673h1v1h-1zM275 673h1v1h-1zM278 673h2v1h-2zM377 673h1v1h-1zM399 673h4v1h-4zM472 673h1v2h-1zM665 673h1v3h-1zM204 674h1v1h-1zM247 674h1v1h-1zM276 674h2v1h-2zM378 674h2v1h-2zM395 674h4v1h-4zM205 675h2v1h-2zM220 675h2v1h-2zM236 675h2v1h-2zM246 675h1v1h-1zM380 675h5v1h-5zM391 675h4v1h-4zM473 675h1v1h-1zM207 676h2v1h-2zM218 676h2v1h-2zM222 676h2v1h-2zM234 676h2v1h-2zM238 676h3v1h-3zM245 676h1v2h-1zM385 676h6v1h-6zM474 676h1v1h-1zM664 676h1v2h-1zM209 677h1v1h-1zM216 677h2v1h-2zM224 677h2v1h-2zM232 677h2v1h-2zM241 677h2v1h-2zM475 677h1v1h-1zM481 677h12v1h-12zM210 678h2v1h-2zM214 678h2v1h-2zM226 678h2v1h-2zM230 678h2v1h-2zM243 678h2v1h-2zM476 678h5v1h-5zM493 678h1v1h-1zM663 678h1v3h-1zM212 679h2v1h-2zM228 679h2v1h-2zM494 679h1v1h-1zM588 679h2v1h-2zM495 680h2v1h-2zM586 680h2v1h-2zM590 680h3v1h-3zM603 680h6v1h-6zM497 681h1v1h-1zM564 681h3v1h-3zM584 681h2v1h-2zM593 681h2v1h-2zM599 681h4v1h-4zM609 681h20v1h-20zM662 681h1v3h-1zM498 682h1v1h-1zM564 682h1v1h-1zM567 682h4v1h-4zM582 682h2v1h-2zM595 682h4v1h-4zM629 682h2v1h-2zM499 683h1v1h-1zM563 683h1v2h-1zM571 683h11v1h-11zM631 683h2v1h-2zM500 684h2v1h-2zM633 684h1v1h-1zM661 684h1v3h-1zM502 685h2v1h-2zM515 685h2v1h-2zM562 685h1v2h-1zM634 685h2v1h-2zM504 686h2v1h-2zM513 686h2v1h-2zM517 686h2v1h-2zM636 686h3v1h-3zM651 686h4v1h-4zM506 687h2v1h-2zM510 687h3v1h-3zM519 687h1v1h-1zM561 687h1v2h-1zM639 687h4v1h-4zM647 687h4v1h-4zM655 687h4v1h-4zM660 687h1v1h-1zM508 688h2v1h-2zM520 688h1v1h-1zM545 688h4v1h-4zM643 688h4v1h-4zM659 688h2v1h-2zM521 689h2v1h-2zM537 689h8v1h-8zM549 689h1v1h-1zM560 689h1v2h-1zM523 690h1v1h-1zM529 690h8v1h-8zM550 690h1v2h-1zM524 691h5v1h-5zM559 691h1v2h-1zM551 692h1v1h-1zM552 693h1v1h-1zM558 693h1v2h-1zM553 694h1v1h-1zM554 695h1v2h-1zM557 695h1v2h-1zM555 697h2v1h-2zM556 698h1v1h-1z"/>
<rect x="11" y="36" width="1671" height="1" fill="#000"/><rect x="11" y="533" width="1671" height="1" fill="#000"/><rect x="11" y="36" width="1" height="498" fill="#000"/><rect x="1681" y="36" width="1" height="498" fill="#000"/>
<rect x="11" y="535" width="1671" height="1" fill="#000"/><rect x="11" y="597" width="1671" height="1" fill="#000"/><rect x="11" y="535" width="1" height="63" fill="#000"/><rect x="1681" y="535" width="1" height="63" fill="#000"/>
<rect x="11" y="599" width="1671" height="1" fill="#000"/><rect x="11" y="728" width="1671" height="1" fill="#000"/><rect x="11" y="599" width="1" height="130" fill="#000"/><rect x="1681" y="599" width="1" height="130" fill="#000"/>
<rect x="1682" y="73" width="2" height="1" fill="#000"/>
<rect x="1682" y="122" width="2" height="1" fill="#000"/>
<rect x="1682" y="171" width="2" height="1" fill="#000"/>
<rect x="1682" y="220" width="2" height="1" fill="#000"/>
<rect x="1682" y="269" width="2" height="1" fill="#000"/>
<rect x="1682" y="318" width="2" height="1" fill="#000"/>
<rect x="1682" y="367" width="2" height="1" fill="#000"/>
<rect x="1682" y="416" width="2" height="1" fill="#000"/>
<rect x="1682" y="465" width="2" height="1" fill="#000"/>
<rect x="1682" y="514" width="2" height="1" fill="#000"/>
<rect x="1682" y="537" width="2" height="1" fill="#000"/>
<rect x="1682" y="577" width="2" height="1" fill="#000"/>
<rect x="1682" y="639" width="2" height="1" fill="#000"/>
<rect x="1682" y="689" width="2" height="1" fill="#000"/>
<rect x="1682" y="727" width="2" height="1" fill="#000"/>
<rect x="12" y="729" width="1" height="3" fill="#000"/>
<rect x="108" y="729" width="1" height="3" fill="#000"/>
<rect x="204" y="729" width="1" height="3" fill="#000"/>
<rect x="300" y="729" width="1" height="3" fill="#000"/>
<rect x="396" y="729" width="1" height="3" fill="#000"/>
<rect x="492" y="729" width="1" height="3" fill="#000"/>
<rect x="588" y="729" width="1" height="3" fill="#000"/>
<rect x="684" y="729" width="1" height="3" fill="#000"/>
<rect x="780" y="729" width="1" height="3" fill="#000"/>
<rect x="876" y="729" width="1" height="3" fill="#000"/>
<rect x="972" y="729" width="1" height="3" fill="#000"/>
<rect x="1068" y="729" width="1" height="3" fill="#000"/>
<rect x="1164" y="729" width="1" height="3" fill="#000"/>
<rect x="1260" y="729" width="1" height="3" fill="#000"/>
</g>
<text x="1199" y="456.6" font-family="&quot;Liberation Sans&quot;, &quot;Noto Sans CJK SC&quot;, sans-serif" font-size="52.5px" fill="#FF1E00" textLength="365" lengthAdjust="spacingAndGlyphs">多空转折点3676</text>
<!-- toolbar icons -->
<g id="icons">
 <!-- separators / grips -->
 <rect x="186" y="0" width="1" height="32" fill="#a8a8a8" shape-rendering="crispEdges"/>
 <rect x="187" y="0" width="1" height="32" fill="#fafafa" shape-rendering="crispEdges"/>
 <g fill="#b8b8b8" shape-rendering="crispEdges">
  <rect x="190" y="3" width="3" height="1"/><rect x="190" y="5" width="3" height="1"/><rect x="190" y="7" width="3" height="1"/><rect x="190" y="9" width="3" height="1"/><rect x="190" y="11" width="3" height="1"/><rect x="190" y="13" width="3" height="1"/><rect x="190" y="15" width="3" height="1"/><rect x="190" y="17" width="3" height="1"/><rect x="190" y="19" width="3" height="1"/><rect x="190" y="21" width="3" height="1"/><rect x="190" y="23" width="3" height="1"/><rect x="190" y="25" width="3" height="1"/><rect x="190" y="27" width="3" height="1"/><rect x="190" y="29" width="3" height="1"/>
 </g>
 <rect x="501" y="0" width="1" height="32" fill="#a8a8a8" shape-rendering="crispEdges"/>
 <rect x="502" y="0" width="1" height="32" fill="#fafafa" shape-rendering="crispEdges"/>
 <!-- channel icon -->
 <g stroke="#787878" stroke-width="1.25" fill="none" stroke-linecap="round">
  <line x1="9.9" y1="18.2" x2="20.2" y2="8.7"/>
  <line x1="16.7" y1="24.7" x2="28.1" y2="14.3"/>
 </g>
 <polyline points="11.6,23.6 13.6,15.8 17.2,20.6 18,14.2 21.4,19 21.8,11.4 25.2,15.4 25,6.4 27.4,13.6" fill="none" stroke="#4c4c4c" stroke-width="1.5" stroke-linejoin="round" stroke-linecap="round"/>
 <text x="23.8" y="27.7" font-family="Liberation Sans, sans-serif" font-weight="bold" font-size="9.5px" fill="#505050" stroke="#505050" stroke-width="0.3">E</text>
 <!-- fibo icon -->
 <g stroke="#6c6c6c" stroke-width="1.5" stroke-dasharray="1.1 1.4" fill="none">
  <line x1="45.3" y1="8.1" x2="62.5" y2="8.1"/>
  <line x1="45.3" y1="11.9" x2="62.5" y2="11.9"/>
  <line x1="45.3" y1="16.9" x2="62.5" y2="16.9"/>
  <line x1="45.3" y1="21.9" x2="57.5" y2="21.9"/>
 </g>
 <text x="57.9" y="27.7" font-family="Liberation Sans, sans-serif" font-weight="bold" font-size="9.5px" fill="#505050" stroke="#505050" stroke-width="0.3">F</text>
 <!-- A -->
 <text x="82.6" y="22.4" font-family="Liberation Sans, sans-serif" font-weight="bold" font-size="15.5px" fill="#606060">A</text>
 <!-- T box -->
 <rect x="115.3" y="9.4" width="14.4" height="14.9" fill="none" stroke="#444" stroke-width="1" stroke-dasharray="1 1.4"/>
 <rect x="118" y="12.2" width="9.6" height="2" fill="#747474"/>
 <rect x="121.8" y="12.2" width="2" height="10.2" fill="#747474"/>
 <!-- arrows -->
 <polygon points="152,8.6 156.4,12.4 154.4,12.4 154.4,14.4 149.6,14.4 149.6,12.4 147.6,12.4" fill="#666"/>
 <polyline points="150.3,17.6 153,20.2 158.6,14.6" fill="none" stroke="#666" stroke-width="1.6"/>
 <polygon points="156.7,20.6 158.8,20.6 158.8,19.4 163.2,19.4 163.2,20.6 165.4,20.6 161,25" fill="#666"/>
 <polygon points="171,15 178.4,15 174.7,19.2" fill="#000"/>
</g>
<!-- title triangle -->
<polygon points="15,49 24,49 19.5,44" fill="#000"/>
</svg>

<div id="title"><span style="letter-spacing:-0.12px">CHINA300-,H4</span><span style="letter-spacing:0.42px">  3709.8 3735.8 3689.0 3719.2</span></div>
<div class="it" style="top:540px">MACD(12,26,9) 58.59 92.28</div>
<div class="it" style="top:604px">RSI(14) 54.5216</div>

<!-- one click trading -->
<div class="red" style="left:15px;top:59px;width:68px;height:76px;"></div>
<div class="red" style="left:15px;top:86px;width:141px;height:49px;background-position:0 -27px;background-size:100% 76px;"></div>
<div class="red" style="left:230px;top:59px;width:68px;height:76px;"></div>
<div class="red" style="left:158px;top:86px;width:140px;height:49px;background-position:0 -27px;background-size:100% 76px;"></div>
<div class="abs" style="left:19px;top:86px;width:60px;height:1px;background:#a81414"></div>
<div class="abs" style="left:19px;top:87px;width:60px;height:1px;background:#ee6a6a"></div>
<div class="abs" style="left:234px;top:86px;width:60px;height:1px;background:#a81414"></div>
<div class="abs" style="left:234px;top:87px;width:60px;height:1px;background:#ee6a6a"></div>
<div class="btxt" style="left:32px;top:64.6px;">SELL</div>
<div class="btxt" style="left:249px;top:64.6px;transform:scaleX(0.955)">BUY</div>
<div id="inp"></div>
<div class="spb" style="left:86px"></div>
<div class="spb" style="left:204px"></div>
<div class="abs" style="left:109px;top:60px;width:1px;height:23px;background:#a9adc0"></div>
<div class="abs" style="left:203px;top:60px;width:1px;height:23px;background:#a9adc0"></div>
<div class="abs" style="left:82px;top:59px;width:1px;height:28px;background:#b80000"></div>
<div class="abs" style="left:82px;top:86px;width:74px;height:1px;background:#b80000"></div>
<div class="abs" style="left:230px;top:59px;width:1px;height:28px;background:#b80000"></div>
<div class="abs" style="left:158px;top:86px;width:73px;height:1px;background:#b80000"></div>
<div class="abs" style="left:120px;top:62.4px;width:80px;height:18px;line-height:18px;font-size:15.5px;text-align:right;color:#0c0c18">1.00</div>
<svg width="1730" height="753" viewBox="0 0 1730 753" style="pointer-events:none">
 <polygon points="93.8,70 101.4,70 97.6,74.2" fill="#4460c4"/>
 <polygon points="211.8,73.4 219.2,73.4 215.5,69" fill="#4460c4"/>
</svg>
<div class="sm" style="left:45.5px;top:110px;">3717</div>
<div class="dot" style="left:87px;top:118.6px;"></div>
<div class="big" style="left:93.2px;top:89px;transform:scaleX(0.95)">7</div>
<div class="sm" style="left:187.5px;top:110px;">3723</div>
<div class="dot" style="left:230.3px;top:118.6px;"></div>
<div class="big" style="left:238px;top:89px;transform:scaleX(0.82)">3</div>

<div class="pl " style="top:67px">3867.0</div>
<div class="pl " style="top:116px">3765.0</div>
<div class="pl " style="top:165px">3665.0</div>
<div class="pl " style="top:214px">3563.0</div>
<div class="pl " style="top:263px">3461.0</div>
<div class="pl " style="top:312px">3361.0</div>
<div class="pl " style="top:361px">3259.0</div>
<div class="pl " style="top:410px">3157.0</div>
<div class="pl " style="top:459px">3057.0</div>
<div class="pl " style="top:508px">2955.0</div>
<div class="pb" style="top:526px;height:14px;line-height:16.4px;background:#FF0000;color:#fff">2917.6</div>
<div class="pb" style="top:518px;height:14px;line-height:16.4px;background:#008000;color:#fff">2933.8</div>
<div class="pb" style="top:99px;height:14px;line-height:16.4px;background:#FF0000;color:#fff">3800.0</div>
<div class="pb" style="top:137px;height:14px;line-height:16.4px;background:#000000;color:#fff">3719.2</div>
<div class="pb" style="top:159px;height:14px;line-height:16.4px;background:#00FF7F;color:#fff">3676.5</div>
<div class="pb" style="top:208px;height:14px;line-height:16.4px;background:#0000FF;color:#fff">3576.0</div>
<div class="pb" style="top:285px;height:14px;line-height:16.4px;background:#0000FF;color:#fff">3416.0</div>
<div class="pl" style="top:537.5px;left:1685.2px">121.84</div>
<div class="pl" style="top:570.5px;left:1685.2px">0.00</div>
<div class="pl" style="top:583px;left:1685.2px">-57.26</div>
<div class="pl" style="top:601.5px;left:1685.2px">100</div>
<div class="pl" style="top:633px;left:1685.2px">70</div>
<div class="pl" style="top:682px;left:1685.2px">30</div>
<div class="pl" style="top:713.5px;left:1685.2px">0</div>
<div class="tl" style="left:11px">7 Nov 2018</div>
<div class="tl" style="left:107px">15 Nov 01:30</div>
<div class="tl" style="left:203px">23 Nov 01:30</div>
<div class="tl" style="left:299px">3 Dec 01:30</div>
<div class="tl" style="left:395px">11 Dec 01:30</div>
<div class="tl" style="left:491px">19 Dec 01:30</div>
<div class="tl" style="left:587px">27 Dec 01:30</div>
<div class="tl" style="left:683px">7 Jan 01:30</div>
<div class="tl" style="left:779px">15 Jan 01:30</div>
<div class="tl" style="left:875px">23 Jan 01:30</div>
<div class="tl" style="left:971px">31 Jan 01:30</div>
<div class="tl" style="left:1067px">15 Feb 01:30</div>
<div class="tl" style="left:1163px">25 Feb 01:30</div>
<div class="tl" style="left:1259px">5 Mar 01:30</div>
</body></html>
